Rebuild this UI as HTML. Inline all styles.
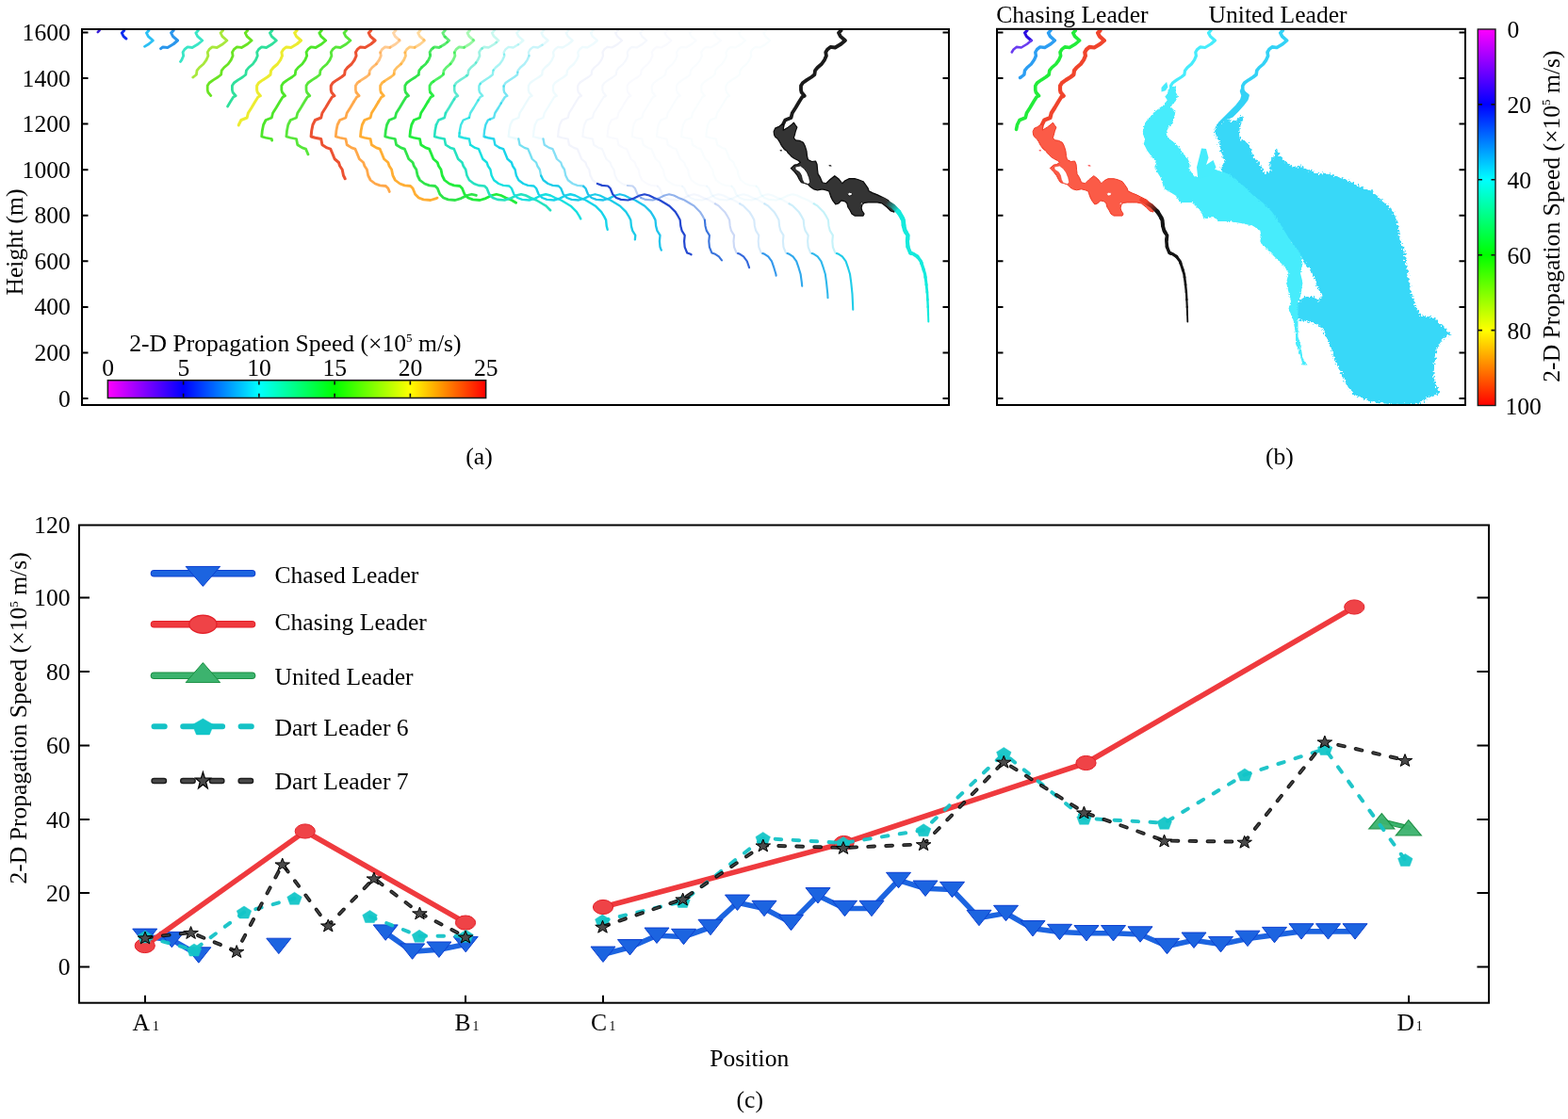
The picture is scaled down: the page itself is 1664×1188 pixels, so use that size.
<!DOCTYPE html>
<html><head><meta charset="utf-8"><title>Figure</title>
<style>html,body{margin:0;padding:0;background:#fff;} svg{display:block;}</style></head>
<body><svg width="1664" height="1188" viewBox="0 0 1664 1188" font-family="'Liberation Serif', 'Times New Roman', serif" fill="#000">
<rect width="1664" height="1188" fill="#fff"/>
<defs><linearGradient id="cbh" x1="0" y1="0" x2="1" y2="0"><stop offset="0.00" stop-color="#ff00ff"/><stop offset="0.20" stop-color="#0000ff"/><stop offset="0.40" stop-color="#00ffff"/><stop offset="0.60" stop-color="#00ff00"/><stop offset="0.80" stop-color="#ffff00"/><stop offset="1.00" stop-color="#ff0000"/></linearGradient><linearGradient id="cbv" x1="0" y1="0" x2="0" y2="1"><stop offset="0.00" stop-color="#ff00ff"/><stop offset="0.20" stop-color="#0000ff"/><stop offset="0.40" stop-color="#00ffff"/><stop offset="0.60" stop-color="#00ff00"/><stop offset="0.80" stop-color="#ffff00"/><stop offset="1.00" stop-color="#ff0000"/></linearGradient><filter id="rough" x="-5%" y="-5%" width="110%" height="110%"><feTurbulence type="fractalNoise" baseFrequency="0.45" numOctaves="2" seed="7" result="n"/><feDisplacementMap in="SourceGraphic" in2="n" scale="7" xChannelSelector="R" yChannelSelector="G"/></filter><filter id="rough2" x="-5%" y="-5%" width="110%" height="110%"><feTurbulence type="fractalNoise" baseFrequency="0.6" numOctaves="2" seed="3" result="n"/><feDisplacementMap in="SourceGraphic" in2="n" scale="3" xChannelSelector="R" yChannelSelector="G"/></filter><clipPath id="clipA"><rect x="88" y="32" width="918" height="397"/></clipPath><clipPath id="clipB"><rect x="1059" y="32" width="495" height="397"/></clipPath></defs>
<g clip-path="url(#clipA)">
<polyline points="105.5,32.4 103.8,34.1" fill="none" stroke="#3a20d8" stroke-width="2.6" stroke-linejoin="round" stroke-linecap="round" opacity="1.0"/>
<polyline points="131.7,32.4 129.2,34.9 131.1,38.6 133.99,41.14" fill="none" stroke="#0a2ef0" stroke-width="2.8" stroke-linejoin="round" stroke-linecap="round" opacity="1.0"/>
<polyline points="157.9,32.4 155.4,34.9 157.3,38.6 162.3,43 157.9,46.75 153.53,49.37" fill="none" stroke="#2cc0f4" stroke-width="2.8" stroke-linejoin="round" stroke-linecap="round" opacity="1.0"/>
<polyline points="184.1,32.4 181.6,34.9 183.5,38.6 188.5,43 184.1,46.75 177.85,50.5 172.85,49.9 170.62,51.67" fill="none" stroke="#2a96ec" stroke-width="3.0" stroke-linejoin="round" stroke-linecap="round" opacity="1.0"/>
<polyline points="210.3,32.4 207.8,34.9 209.7,38.6 214.7,43 210.3,46.75 204.05,50.5 199.05,49.9 195.9,52.4 194.05,55.5 194.7,59.25 192.8,63.6 191.48,65.47" fill="none" stroke="#3ae6c6" stroke-width="2.8" stroke-linejoin="round" stroke-linecap="round" opacity="1.0"/>
<polyline points="236.5,32.4 234,34.9 235.9,38.6 240.9,43 236.5,46.75 230.25,50.5 225.25,49.9 222.1,52.4 220.25,55.5 220.9,59.25 219,63.6 215.9,68 211.5,71.75 209,74.9 208.4,79.25 205.25,81.75 204.73,82.08" fill="none" stroke="#a8e83c" stroke-width="2.8" stroke-linejoin="round" stroke-linecap="round" opacity="1.0"/>
<polyline points="262.7,32.4 260.2,34.9 262.1,38.6 267.1,43 262.7,46.75 256.45,50.5 251.45,49.9 248.3,52.4 246.45,55.5 247.1,59.25 245.2,63.6 242.1,68 237.7,71.75 235.2,74.9 234.6,79.25 231.45,81.75 226.45,84.9 222.1,88 220.2,91.1 220.2,95.5 220.8,98 223.78,101.54" fill="none" stroke="#6ae424" stroke-width="2.8" stroke-linejoin="round" stroke-linecap="round" opacity="1.0"/>
<polyline points="288.9,32.4 286.4,34.9 288.3,38.6 293.3,43 288.9,46.75 282.65,50.5 277.65,49.9 274.5,52.4 272.65,55.5 273.3,59.25 271.4,63.6 268.3,68 263.9,71.75 261.4,74.9 260.8,79.25 257.65,81.75 252.65,84.9 248.3,88 246.4,91.1 246.4,95.5 247,98 250.15,101.75 247.65,103 244.5,108 241.55,112.99" fill="none" stroke="#30e09c" stroke-width="2.8" stroke-linejoin="round" stroke-linecap="round" opacity="1.0"/>
<polyline points="315.1,32.4 312.6,34.9 314.5,38.6 319.5,43 315.1,46.75 308.85,50.5 303.85,49.9 300.7,52.4 298.85,55.5 299.5,59.25 297.6,63.6 294.5,68 290.1,71.75 287.6,74.9 287,79.25 283.85,81.75 278.85,84.9 274.5,88 272.6,91.1 272.6,95.5 273.2,98 276.35,101.75 273.85,103 270.7,108 267,114.25 263.35,120 262.1,125 255.85,127.5 253.35,132.5 253.24,133.03" fill="none" stroke="#ecec30" stroke-width="3.0" stroke-linejoin="round" stroke-linecap="round" opacity="1.0"/>
<polyline points="341.3,32.4 338.8,34.9 340.7,38.6 345.7,43 341.3,46.75 335.05,50.5 330.05,49.9 326.9,52.4 325.05,55.5 325.7,59.25 323.8,63.6 320.7,68 316.3,71.75 313.8,74.9 313.2,79.25 310.05,81.75 305.05,84.9 300.7,88 298.8,91.1 298.8,95.5 299.4,98 302.55,101.75 300.05,103 296.9,108 293.2,114.25 289.55,120 288.3,125 282.05,127.5 279.55,132.5 278.3,138.75 277.7,145 282.05,146.25 288.3,147.5 288.64,149.18" fill="none" stroke="#4ee62a" stroke-width="2.8" stroke-linejoin="round" stroke-linecap="round" opacity="1.0"/>
<polyline points="367.5,32.4 365,34.9 366.9,38.6 371.9,43 367.5,46.75 361.25,50.5 356.25,49.9 353.1,52.4 351.25,55.5 351.9,59.25 350,63.6 346.9,68 342.5,71.75 340,74.9 339.4,79.25 336.25,81.75 331.25,84.9 326.9,88 325,91.1 325,95.5 325.6,98 328.75,101.75 326.25,103 323.1,108 319.4,114.25 315.75,120 314.5,125 308.25,127.5 305.75,132.5 304.5,138.75 303.9,145 308.25,146.25 314.5,147.5 315.75,153.75 320.75,156.9 324.5,158.1 326.4,162.5 326.95,163.87" fill="none" stroke="#58e63a" stroke-width="2.8" stroke-linejoin="round" stroke-linecap="round" opacity="1.0"/>
<polyline points="393.7,32.4 391.2,34.9 393.1,38.6 398.1,43 393.7,46.75 387.45,50.5 382.45,49.9 379.3,52.4 377.45,55.5 378.1,59.25 376.2,63.6 373.1,68 368.7,71.75 366.2,74.9 365.6,79.25 362.45,81.75 357.45,84.9 353.1,88 351.2,91.1 351.2,95.5 351.8,98 354.95,101.75 352.45,103 349.3,108 345.6,114.25 341.95,120 340.7,125 334.45,127.5 331.95,132.5 330.7,138.75 330.1,145 334.45,146.25 340.7,147.5 341.95,153.75 346.95,156.9 350.7,158.1 352.6,162.5 355.1,168.75 359.45,172.5 360.7,176.25 363.2,180 364.45,186.25 366.21,189.77" fill="none" stroke="#ec5232" stroke-width="3.0" stroke-linejoin="round" stroke-linecap="round" opacity="1.0"/>
<polyline points="419.9,32.4 417.4,34.9 419.3,38.6 423.63,42.41" fill="none" stroke="#ffa84a" stroke-width="2.8" stroke-linejoin="round" stroke-linecap="round" opacity="0.484375"/>
<polyline points="423.63,42.41 424.3,43 419.9,46.75 414.08,50.24" fill="none" stroke="#ffa84a" stroke-width="2.8" stroke-linejoin="round" stroke-linecap="round" opacity="0.553125"/>
<polyline points="414.08,50.24 413.65,50.5 408.65,49.9 405.5,52.4 403.65,55.5 403.7,55.79" fill="none" stroke="#ffa84a" stroke-width="2.8" stroke-linejoin="round" stroke-linecap="round" opacity="0.621875"/>
<polyline points="403.7,55.79 404.3,59.25 402.4,63.6 399.4,67.86" fill="none" stroke="#ffa84a" stroke-width="2.8" stroke-linejoin="round" stroke-linecap="round" opacity="0.690625"/>
<polyline points="399.4,67.86 399.3,68 394.9,71.75 392.4,74.9 391.92,78.35" fill="none" stroke="#ffa84a" stroke-width="2.8" stroke-linejoin="round" stroke-linecap="round" opacity="0.759375"/>
<polyline points="391.92,78.35 391.8,79.25 388.65,81.75 383.65,84.9 381.51,86.42" fill="none" stroke="#ffa84a" stroke-width="2.8" stroke-linejoin="round" stroke-linecap="round" opacity="0.828125"/>
<polyline points="381.51,86.42 379.3,88 377.4,91.1 377.4,95.5 378,98 378.09,98.11" fill="none" stroke="#ffa84a" stroke-width="2.8" stroke-linejoin="round" stroke-linecap="round" opacity="0.8968750000000001"/>
<polyline points="378.09,98.11 381.15,101.75 378.65,103 375.5,108" fill="none" stroke="#ffa84a" stroke-width="2.8" stroke-linejoin="round" stroke-linecap="round" opacity="0.965625"/>
<polyline points="375.5,108 371.8,114.25 368.15,120 366.9,125 360.65,127.5 358.15,132.5 356.9,138.75 356.3,145 360.65,146.25 366.9,147.5 368.15,153.75 373.15,156.9 376.9,158.1 378.8,162.5 381.3,168.75 385.65,172.5 386.9,176.25 389.4,180 390.65,186.25 393.15,191.25 398.15,195 403.15,196.9 409.4,197.5 411.9,200 413.31,203.53" fill="none" stroke="#ffa84a" stroke-width="2.8" stroke-linejoin="round" stroke-linecap="round" opacity="1.0"/>
<polyline points="446.1,32.4 443.6,34.9 445.5,38.6 449.83,42.41" fill="none" stroke="#ffae34" stroke-width="2.8" stroke-linejoin="round" stroke-linecap="round" opacity="0.484375"/>
<polyline points="449.83,42.41 450.5,43 446.1,46.75 440.28,50.24" fill="none" stroke="#ffae34" stroke-width="2.8" stroke-linejoin="round" stroke-linecap="round" opacity="0.553125"/>
<polyline points="440.28,50.24 439.85,50.5 434.85,49.9 431.7,52.4 429.85,55.5 429.9,55.79" fill="none" stroke="#ffae34" stroke-width="2.8" stroke-linejoin="round" stroke-linecap="round" opacity="0.621875"/>
<polyline points="429.9,55.79 430.5,59.25 428.6,63.6 425.6,67.86" fill="none" stroke="#ffae34" stroke-width="2.8" stroke-linejoin="round" stroke-linecap="round" opacity="0.690625"/>
<polyline points="425.6,67.86 425.5,68 421.1,71.75 418.6,74.9 418.12,78.35" fill="none" stroke="#ffae34" stroke-width="2.8" stroke-linejoin="round" stroke-linecap="round" opacity="0.759375"/>
<polyline points="418.12,78.35 418,79.25 414.85,81.75 409.85,84.9 407.71,86.42" fill="none" stroke="#ffae34" stroke-width="2.8" stroke-linejoin="round" stroke-linecap="round" opacity="0.828125"/>
<polyline points="407.71,86.42 405.5,88 403.6,91.1 403.6,95.5 404.2,98 404.29,98.11" fill="none" stroke="#ffae34" stroke-width="2.8" stroke-linejoin="round" stroke-linecap="round" opacity="0.8968750000000001"/>
<polyline points="404.29,98.11 407.35,101.75 404.85,103 401.7,108" fill="none" stroke="#ffae34" stroke-width="2.8" stroke-linejoin="round" stroke-linecap="round" opacity="0.965625"/>
<polyline points="401.7,108 398,114.25 394.35,120 393.1,125 386.85,127.5 384.35,132.5 383.1,138.75 382.5,145 386.85,146.25 393.1,147.5 394.35,153.75 399.35,156.9 403.1,158.1 405,162.5 407.5,168.75 411.85,172.5 413.1,176.25 415.6,180 416.85,186.25 419.35,191.25 424.35,195 429.35,196.9 435.6,197.5 438.1,200 440.6,206.25 444.35,210 449.35,211.9 456.85,212.5 463.1,210.6 464.09,210.11" fill="none" stroke="#ffae34" stroke-width="2.8" stroke-linejoin="round" stroke-linecap="round" opacity="1.0"/>
<polyline points="472.3,32.4 469.8,34.9 471.7,38.6 472.33,39.15" fill="none" stroke="#30e44a" stroke-width="2.8" stroke-linejoin="round" stroke-linecap="round" opacity="0.71875"/>
<polyline points="472.33,39.15 476.7,43 474.64,44.75" fill="none" stroke="#30e44a" stroke-width="2.8" stroke-linejoin="round" stroke-linecap="round" opacity="0.75625"/>
<polyline points="474.64,44.75 472.3,46.75 467.63,49.55" fill="none" stroke="#30e44a" stroke-width="2.8" stroke-linejoin="round" stroke-linecap="round" opacity="0.79375"/>
<polyline points="467.63,49.55 466.05,50.5 461.05,49.9 459.76,50.93" fill="none" stroke="#30e44a" stroke-width="2.8" stroke-linejoin="round" stroke-linecap="round" opacity="0.83125"/>
<polyline points="459.76,50.93 457.9,52.4 456.05,55.5 456.48,58.01" fill="none" stroke="#30e44a" stroke-width="2.8" stroke-linejoin="round" stroke-linecap="round" opacity="0.8687499999999999"/>
<polyline points="456.48,58.01 456.7,59.25 454.8,63.6 453.35,65.66" fill="none" stroke="#30e44a" stroke-width="2.8" stroke-linejoin="round" stroke-linecap="round" opacity="0.90625"/>
<polyline points="453.35,65.66 451.7,68 447.39,71.68" fill="none" stroke="#30e44a" stroke-width="2.8" stroke-linejoin="round" stroke-linecap="round" opacity="0.94375"/>
<polyline points="447.39,71.68 447.3,71.75 444.8,74.9 444.2,79.25" fill="none" stroke="#30e44a" stroke-width="2.8" stroke-linejoin="round" stroke-linecap="round" opacity="0.98125"/>
<polyline points="444.2,79.25 441.05,81.75 436.05,84.9 431.7,88 429.8,91.1 429.8,95.5 430.4,98 433.55,101.75 431.05,103 427.9,108 424.2,114.25 420.55,120 419.3,125 413.05,127.5 410.55,132.5 409.3,138.75 408.7,145 413.05,146.25 419.3,147.5 420.55,153.75 425.55,156.9 429.3,158.1 431.2,162.5 433.7,168.75 438.05,172.5 439.3,176.25 441.8,180 443.05,186.25 445.55,191.25 450.55,195 455.55,196.9 461.8,197.5 464.3,200 466.8,206.25 470.55,210 475.55,211.9 483.05,212.5 489.3,210.6 495.55,207.5 500.55,206.25 505.41,207.46" fill="none" stroke="#30e44a" stroke-width="2.8" stroke-linejoin="round" stroke-linecap="round" opacity="1.0"/>
<polyline points="498.5,32.4 496,34.9 497.9,38.6 502.23,42.41" fill="none" stroke="#22ec3c" stroke-width="2.8" stroke-linejoin="round" stroke-linecap="round" opacity="0.390625"/>
<polyline points="502.23,42.41 502.9,43 498.5,46.75 492.68,50.24" fill="none" stroke="#22ec3c" stroke-width="2.8" stroke-linejoin="round" stroke-linecap="round" opacity="0.471875"/>
<polyline points="492.68,50.24 492.25,50.5 487.25,49.9 484.1,52.4 482.25,55.5 482.3,55.79" fill="none" stroke="#22ec3c" stroke-width="2.8" stroke-linejoin="round" stroke-linecap="round" opacity="0.553125"/>
<polyline points="482.3,55.79 482.9,59.25 481,63.6 478,67.86" fill="none" stroke="#22ec3c" stroke-width="2.8" stroke-linejoin="round" stroke-linecap="round" opacity="0.6343749999999999"/>
<polyline points="478,67.86 477.9,68 473.5,71.75 471,74.9 470.52,78.35" fill="none" stroke="#22ec3c" stroke-width="2.8" stroke-linejoin="round" stroke-linecap="round" opacity="0.715625"/>
<polyline points="470.52,78.35 470.4,79.25 467.25,81.75 462.25,84.9 460.11,86.42" fill="none" stroke="#22ec3c" stroke-width="2.8" stroke-linejoin="round" stroke-linecap="round" opacity="0.796875"/>
<polyline points="460.11,86.42 457.9,88 456,91.1 456,95.5 456.6,98 456.69,98.11" fill="none" stroke="#22ec3c" stroke-width="2.8" stroke-linejoin="round" stroke-linecap="round" opacity="0.878125"/>
<polyline points="456.69,98.11 459.75,101.75 457.25,103 454.1,108" fill="none" stroke="#22ec3c" stroke-width="2.8" stroke-linejoin="round" stroke-linecap="round" opacity="0.959375"/>
<polyline points="454.1,108 450.4,114.25 446.75,120 445.5,125 439.25,127.5 436.75,132.5 435.5,138.75 434.9,145 439.25,146.25 445.5,147.5 446.75,153.75 451.75,156.9 455.5,158.1 457.4,162.5 459.9,168.75 464.25,172.5 465.5,176.25 468,180 469.25,186.25 471.75,191.25 476.75,195 481.75,196.9 488,197.5 490.5,200 493,206.25 496.75,210 501.75,211.9 509.25,212.5 515.5,210.6 521.75,207.5 526.75,206.25 531.75,207.5 536.75,210 543,212.5 547.6,215.26" fill="none" stroke="#22ec3c" stroke-width="2.8" stroke-linejoin="round" stroke-linecap="round" opacity="1.0"/>
<polyline points="524.7,32.4 522.2,34.9 524.1,38.6 529.1,43 526.78,44.98" fill="none" stroke="#26e2c0" stroke-width="2.6" stroke-linejoin="round" stroke-linecap="round" opacity="0.25"/>
<polyline points="526.78,44.98 524.7,46.75 518.45,50.5 513.45,49.9 511.61,51.36" fill="none" stroke="#26e2c0" stroke-width="2.6" stroke-linejoin="round" stroke-linecap="round" opacity="0.35000000000000003"/>
<polyline points="511.61,51.36 510.3,52.4 508.45,55.5 509.1,59.25 507.2,63.6 505.14,66.52" fill="none" stroke="#26e2c0" stroke-width="2.6" stroke-linejoin="round" stroke-linecap="round" opacity="0.45"/>
<polyline points="505.14,66.52 504.1,68 499.7,71.75 497.2,74.9 496.6,79.25 495.5,80.12" fill="none" stroke="#26e2c0" stroke-width="2.6" stroke-linejoin="round" stroke-linecap="round" opacity="0.55"/>
<polyline points="495.5,80.12 493.45,81.75 488.45,84.9 484.1,88 482.25,91.02" fill="none" stroke="#26e2c0" stroke-width="2.6" stroke-linejoin="round" stroke-linecap="round" opacity="0.65"/>
<polyline points="482.25,91.02 482.2,91.1 482.2,95.5 482.8,98 485.95,101.75 483.45,103 482.04,105.24" fill="none" stroke="#26e2c0" stroke-width="2.6" stroke-linejoin="round" stroke-linecap="round" opacity="0.75"/>
<polyline points="482.04,105.24 480.3,108 476.6,114.25 472.95,120 472.93,120.07" fill="none" stroke="#26e2c0" stroke-width="2.6" stroke-linejoin="round" stroke-linecap="round" opacity="0.8500000000000001"/>
<polyline points="472.93,120.07 471.7,125 465.45,127.5 462.95,132.5" fill="none" stroke="#26e2c0" stroke-width="2.6" stroke-linejoin="round" stroke-linecap="round" opacity="0.95"/>
<polyline points="462.95,132.5 461.7,138.75 461.1,145 465.45,146.25 471.7,147.5 472.95,153.75 477.95,156.9 481.7,158.1 483.6,162.5 486.1,168.75 490.45,172.5 491.7,176.25 494.2,180 495.45,186.25 497.95,191.25 502.95,195 507.95,196.9 514.2,197.5 516.7,200 519.2,206.25 522.95,210 527.95,211.9 535.45,212.5 541.7,210.6 547.95,207.5 552.95,206.25 557.95,207.5 562.95,210 569.2,212.5 575.45,216.25 579.5,218.7 584.05,223.25" fill="none" stroke="#26e2c0" stroke-width="2.6" stroke-linejoin="round" stroke-linecap="round" opacity="1.0"/>
<polyline points="550.9,32.4 548.4,34.9 550.3,38.6 555.3,43 550.9,46.75 550.03,47.27" fill="none" stroke="#18e0e0" stroke-width="2.4" stroke-linejoin="round" stroke-linecap="round" opacity="0.1375"/>
<polyline points="550.03,47.27 544.65,50.5 539.65,49.9 536.5,52.4 534.65,55.5 535.03,57.67" fill="none" stroke="#18e0e0" stroke-width="2.4" stroke-linejoin="round" stroke-linecap="round" opacity="0.2525"/>
<polyline points="535.03,57.67 535.3,59.25 533.4,63.6 530.3,68 525.9,71.75 523.64,74.6" fill="none" stroke="#18e0e0" stroke-width="2.4" stroke-linejoin="round" stroke-linecap="round" opacity="0.36750000000000005"/>
<polyline points="523.64,74.6 523.4,74.9 522.8,79.25 519.65,81.75 514.65,84.9 510.3,88 509.73,88.93" fill="none" stroke="#18e0e0" stroke-width="2.4" stroke-linejoin="round" stroke-linecap="round" opacity="0.48250000000000004"/>
<polyline points="509.73,88.93 508.4,91.1 508.4,95.5 509,98 512.15,101.75 509.65,103 507.55,106.34" fill="none" stroke="#18e0e0" stroke-width="2.4" stroke-linejoin="round" stroke-linecap="round" opacity="0.5975"/>
<polyline points="507.55,106.34 506.5,108 502.8,114.25 499.15,120 497.91,124.95" fill="none" stroke="#18e0e0" stroke-width="2.4" stroke-linejoin="round" stroke-linecap="round" opacity="0.7125"/>
<polyline points="497.91,124.95 497.9,125 491.65,127.5 489.15,132.5 487.9,138.75 487.67,141.14" fill="none" stroke="#18e0e0" stroke-width="2.4" stroke-linejoin="round" stroke-linecap="round" opacity="0.8275"/>
<polyline points="487.67,141.14 487.3,145 491.65,146.25 497.9,147.5 499.15,153.75" fill="none" stroke="#18e0e0" stroke-width="2.4" stroke-linejoin="round" stroke-linecap="round" opacity="0.9425"/>
<polyline points="499.15,153.75 504.15,156.9 507.9,158.1 509.8,162.5 512.3,168.75 516.65,172.5 517.9,176.25 520.4,180 521.65,186.25 524.15,191.25 529.15,195 534.15,196.9 540.4,197.5 542.9,200 545.4,206.25 549.15,210 554.15,211.9 561.65,212.5 567.9,210.6 574.15,207.5 579.15,206.25 584.15,207.5 589.15,210 595.4,212.5 601.65,216.25 605.7,218.7 611.9,224.9 615,229.9 616.26,232.35" fill="none" stroke="#18e0e0" stroke-width="2.4" stroke-linejoin="round" stroke-linecap="round" opacity="1.0"/>
<polyline points="577.1,32.4 574.6,34.9 576.5,38.6 581.5,43 577.1,46.75 575.6,47.65" fill="none" stroke="#18d4ea" stroke-width="2.4" stroke-linejoin="round" stroke-linecap="round" opacity="0.109375"/>
<polyline points="575.6,47.65 570.85,50.5 565.85,49.9 562.7,52.4 560.85,55.5 561.48,59.13" fill="none" stroke="#18d4ea" stroke-width="2.4" stroke-linejoin="round" stroke-linecap="round" opacity="0.22812499999999997"/>
<polyline points="561.48,59.13 561.5,59.25 559.6,63.6 556.5,68 552.1,71.75 549.6,74.9 549.35,76.71" fill="none" stroke="#18d4ea" stroke-width="2.4" stroke-linejoin="round" stroke-linecap="round" opacity="0.346875"/>
<polyline points="549.35,76.71 549,79.25 545.85,81.75 540.85,84.9 536.5,88 534.6,91.1 534.6,91.51" fill="none" stroke="#18d4ea" stroke-width="2.4" stroke-linejoin="round" stroke-linecap="round" opacity="0.46562499999999996"/>
<polyline points="534.6,91.51 534.6,95.5 535.2,98 538.35,101.75 535.85,103 532.7,108 531.82,109.49" fill="none" stroke="#18d4ea" stroke-width="2.4" stroke-linejoin="round" stroke-linecap="round" opacity="0.584375"/>
<polyline points="531.82,109.49 529,114.25 525.35,120 524.1,125 520.03,126.63" fill="none" stroke="#18d4ea" stroke-width="2.4" stroke-linejoin="round" stroke-linecap="round" opacity="0.703125"/>
<polyline points="520.03,126.63 517.85,127.5 515.35,132.5 514.1,138.75 513.5,145 514.75,145.36" fill="none" stroke="#18d4ea" stroke-width="2.4" stroke-linejoin="round" stroke-linecap="round" opacity="0.821875"/>
<polyline points="514.75,145.36 517.85,146.25 524.1,147.5 525.35,153.75 530.35,156.9" fill="none" stroke="#18d4ea" stroke-width="2.4" stroke-linejoin="round" stroke-linecap="round" opacity="0.940625"/>
<polyline points="530.35,156.9 534.1,158.1 536,162.5 538.5,168.75 542.85,172.5 544.1,176.25 546.6,180 547.85,186.25 550.35,191.25 555.35,195 560.35,196.9 566.6,197.5 569.1,200 571.6,206.25 575.35,210 580.35,211.9 587.85,212.5 594.1,210.6 600.35,207.5 605.35,206.25 610.35,207.5 615.35,210 621.6,212.5 627.85,216.25 631.9,218.7 638.1,224.9 641.2,229.9 643.1,233.6 643.7,239.9 644.72,243.82" fill="none" stroke="#18d4ea" stroke-width="2.4" stroke-linejoin="round" stroke-linecap="round" opacity="1.0"/>
<polyline points="603.3,32.4 600.8,34.9 602.7,38.6 607.7,43 603.3,46.75 597.05,50.5 592.05,49.9 588.9,52.4 587.05,55.5 587.7,59.25 585.8,63.6 582.7,68 578.3,71.75 575.8,74.9 575.2,79.25 572.05,81.75 567.05,84.9 562.7,88 560.8,91.1 560.8,95.5 561.4,98 564.55,101.75 562.05,103 558.9,108 555.2,114.25 551.55,120 550.3,125 544.05,127.5 541.55,132.5 540.3,138.75 539.7,145 544.05,146.25 550.28,147.5" fill="none" stroke="#1ccce8" stroke-width="2.3" stroke-linejoin="round" stroke-linecap="round" opacity="0.09"/>
<polyline points="550.28,147.5 550.3,147.5 551.55,153.75 556.55,156.9 560.3,158.1 562.2,162.5 564.7,168.75 569.05,172.5 570.3,176.25 572.8,180 574.05,186.25 574.16,186.47" fill="none" stroke="#1ccce8" stroke-width="2.3" stroke-linejoin="round" stroke-linecap="round" opacity="0.6"/>
<polyline points="574.16,186.47 576.55,191.25 581.55,195 586.55,196.9 592.8,197.5 595.3,200 597.8,206.25 601.55,210 606.55,211.9 614.05,212.5 620.3,210.6 626.55,207.5 631.55,206.25 636.55,207.5 641.55,210 647.8,212.5 654.05,216.25 658.1,218.7 664.3,224.9 667.4,229.9 669.3,233.6 669.9,239.9 671.2,244.9 674.3,249.9 673.86,254.46" fill="none" stroke="#1ccce8" stroke-width="2.3" stroke-linejoin="round" stroke-linecap="round" opacity="1.0"/>
<polyline points="629.5,32.4 627,34.9 628.9,38.6 633.9,43 629.5,46.75 623.25,50.5 618.25,49.9 615.1,52.4 613.25,55.5 613.9,59.25 612,63.6 608.9,68 604.5,71.75 602,74.9 601.4,79.25 598.25,81.75 593.25,84.9 588.9,88 587,91.1 587,95.5 587.6,98 590.75,101.75 588.25,103 585.1,108 581.4,114.25 577.75,120 576.5,125 570.25,127.5 567.75,132.5 566.5,138.75 565.9,145 570.25,146.25 576.48,147.5" fill="none" stroke="#20c4ec" stroke-width="2.3" stroke-linejoin="round" stroke-linecap="round" opacity="0.07"/>
<polyline points="576.48,147.5 576.5,147.5 577.75,153.75 582.75,156.9 586.5,158.1 588.4,162.5 590.9,168.75 595.25,172.5 596.5,176.25 599,180 600.25,186.25 602.75,191.25 607.75,195 612.75,196.9 619,197.5 619.2,197.7" fill="none" stroke="#20c4ec" stroke-width="2.3" stroke-linejoin="round" stroke-linecap="round" opacity="0.55"/>
<polyline points="619.2,197.7 621.5,200 624,206.25 627.75,210 632.75,211.9 640.25,212.5 646.5,210.6 652.75,207.5 657.75,206.25 662.75,207.5 667.75,210 674,212.5 680.25,216.25 684.3,218.7 690.5,224.9 693.6,229.9 695.5,233.6 696.1,239.9 697.4,244.9 700.5,249.9 699.9,256.1 700.5,262.3 701.82,265.57" fill="none" stroke="#20c4ec" stroke-width="2.3" stroke-linejoin="round" stroke-linecap="round" opacity="1.0"/>
<polyline points="655.7,32.4 653.2,34.9 655.1,38.6 660.1,43 655.7,46.75 649.45,50.5 644.45,49.9 641.3,52.4 639.45,55.5 640.1,59.25 638.2,63.6 635.1,68 630.7,71.75 628.2,74.9 627.6,79.25 624.45,81.75 619.45,84.9 615.1,88 613.2,91.1 613.2,95.5 613.8,98 616.95,101.75 614.45,103 611.3,108 607.6,114.25 603.95,120 602.7,125 596.45,127.5 593.95,132.5 592.7,138.75 592.1,145 596.45,146.25 602.7,147.5 603.95,153.75 608.95,156.9 612.7,158.1 614.6,162.5 617.1,168.75 621.45,172.5 622.7,176.25 625.2,180 626.45,186.25 628.95,191.25 633.95,195" fill="none" stroke="#2448d0" stroke-width="2.2" stroke-linejoin="round" stroke-linecap="round" opacity="0.06"/>
<polyline points="633.95,195 638.95,196.9 645.2,197.5 647.7,200 650.2,206.25 653.95,210 658.95,211.9 666.45,212.5 672.7,210.6 678.95,207.5 683.95,206.25 688.95,207.5 693.95,210 700.2,212.5 706.45,216.25 710.5,218.7 716.7,224.9 719.8,229.9 721.7,233.6 722.3,239.9 723.6,244.9 726.7,249.9 726.1,256.1 726.7,262.3 729.2,268.5 732.9,269.8 733.55,270.23" fill="none" stroke="#2448d0" stroke-width="2.2" stroke-linejoin="round" stroke-linecap="round" opacity="1.0"/>
<polyline points="681.9,32.4 679.4,34.9 681.3,38.6 686.3,43 681.9,46.75 675.65,50.5 670.65,49.9 667.5,52.4 665.65,55.5 666.3,59.25 664.4,63.6 661.3,68 656.9,71.75 654.4,74.9 653.8,79.25 650.65,81.75 645.65,84.9 641.3,88 639.4,91.1 639.4,95.5 640,98 643.15,101.75 640.65,103 637.5,108 633.8,114.25 630.15,120 628.9,125 622.65,127.5 620.15,132.5 618.9,138.75 618.3,145 622.65,146.25 628.9,147.5 630.15,153.75 635.15,156.9 638.9,158.1 640.8,162.5 643.3,168.75 647.65,172.5 648.9,176.25 651.4,180 652.65,186.25 655.15,191.25 660.15,195 665.15,196.9 665.89,196.97" fill="none" stroke="#3a74dc" stroke-width="2.1" stroke-linejoin="round" stroke-linecap="round" opacity="0.05"/>
<polyline points="665.89,196.97 671.4,197.5 673.9,200 676.4,206.25 680.15,210" fill="none" stroke="#3a74dc" stroke-width="2.1" stroke-linejoin="round" stroke-linecap="round" opacity="0.3"/>
<polyline points="680.15,210 685.15,211.9 692.65,212.5 698.9,210.6 705.15,207.5 710.15,206.25 715.15,207.5 720.15,210 726.4,212.5 732.65,216.25 736.7,218.7 742.9,224.9 746,229.9 747.9,233.6" fill="none" stroke="#3a74dc" stroke-width="2.1" stroke-linejoin="round" stroke-linecap="round" opacity="0.55"/>
<polyline points="747.9,233.6 748.5,239.9 749.8,244.9 752.9,249.9 752.3,256.1 752.9,262.3 755.4,268.5 759.1,269.8 762.9,272.3 765.97,276.45" fill="none" stroke="#3a74dc" stroke-width="2.1" stroke-linejoin="round" stroke-linecap="round" opacity="1.0"/>
<polyline points="708.1,32.4 705.6,34.9 707.5,38.6 712.5,43 708.1,46.75 701.85,50.5 696.85,49.9 693.7,52.4 691.85,55.5 692.5,59.25 690.6,63.6 687.5,68 683.1,71.75 680.6,74.9 680,79.25 676.85,81.75 671.85,84.9 667.5,88 665.6,91.1 665.6,95.5 666.2,98 669.35,101.75 666.85,103 663.7,108 660,114.25 656.35,120 655.1,125 648.85,127.5 646.35,132.5 645.1,138.75 644.5,145 648.85,146.25 655.1,147.5 656.35,153.75 661.35,156.9 665.1,158.1 667,162.5 669.5,168.75 673.85,172.5 675.1,176.25 677.6,180 678.85,186.25 681.35,191.25 686.35,195 691.35,196.9 697.6,197.5 697.8,197.7" fill="none" stroke="#3468dc" stroke-width="2.1" stroke-linejoin="round" stroke-linecap="round" opacity="0.03"/>
<polyline points="697.8,197.7 700.1,200 702.6,206.25 706.35,210 711.35,211.9 718.85,212.5 725.1,210.6 731.35,207.5 736.35,206.25 741.35,207.5 746.35,210 752.6,212.5 758.85,216.25" fill="none" stroke="#3468dc" stroke-width="2.1" stroke-linejoin="round" stroke-linecap="round" opacity="0.06"/>
<polyline points="758.85,216.25 762.9,218.7 769.1,224.9 772.2,229.9 774.1,233.6 774.7,239.9 776,244.9 779.1,249.9 778.5,256.1 779.1,262.3 781.6,268.5 783.05,269.01" fill="none" stroke="#3468dc" stroke-width="2.1" stroke-linejoin="round" stroke-linecap="round" opacity="0.25"/>
<polyline points="783.05,269.01 785.3,269.8 789.1,272.3 792.8,277.3 795.11,284.14" fill="none" stroke="#3468dc" stroke-width="2.1" stroke-linejoin="round" stroke-linecap="round" opacity="1.0"/>
<polyline points="734.3,32.4 731.8,34.9 733.7,38.6 738.7,43 734.3,46.75 728.05,50.5 723.05,49.9 719.9,52.4 718.05,55.5 718.7,59.25 716.8,63.6 713.7,68 709.3,71.75 706.8,74.9 706.2,79.25 703.05,81.75 698.05,84.9 693.7,88 691.8,91.1 691.8,95.5 692.4,98 695.55,101.75 693.05,103 689.9,108 686.2,114.25 682.55,120 681.3,125 675.05,127.5 672.55,132.5 671.3,138.75 670.7,145 675.05,146.25 681.3,147.5 682.55,153.75 687.55,156.9 691.3,158.1 693.2,162.5 695.7,168.75 700.05,172.5 701.3,176.25 703.8,180 705.05,186.25 707.55,191.25 712.55,195 717.55,196.9 723.8,197.5 724,197.7" fill="none" stroke="#3498ec" stroke-width="2.1" stroke-linejoin="round" stroke-linecap="round" opacity="0.03"/>
<polyline points="724,197.7 726.3,200 728.8,206.25 732.55,210 737.55,211.9 745.05,212.5 751.3,210.6 757.55,207.5 762.55,206.25 767.55,207.5 772.55,210 778.8,212.5 785.05,216.25" fill="none" stroke="#3498ec" stroke-width="2.1" stroke-linejoin="round" stroke-linecap="round" opacity="0.06"/>
<polyline points="785.05,216.25 789.1,218.7 795.3,224.9 798.4,229.9 800.3,233.6 800.9,239.9 802.2,244.9 805.3,249.9 804.7,256.1 805.3,262.3 807.8,268.5 809.25,269.01" fill="none" stroke="#3498ec" stroke-width="2.1" stroke-linejoin="round" stroke-linecap="round" opacity="0.2"/>
<polyline points="809.25,269.01 811.5,269.8 815.3,272.3 819,277.3 821.5,284.7 823.4,291 823.62,292.59" fill="none" stroke="#3498ec" stroke-width="2.1" stroke-linejoin="round" stroke-linecap="round" opacity="1.0"/>
<polyline points="760.5,32.4 758,34.9 759.9,38.6 764.9,43 760.5,46.75 754.25,50.5 749.25,49.9 746.1,52.4 744.25,55.5 744.9,59.25 743,63.6 739.9,68 735.5,71.75 733,74.9 732.4,79.25 729.25,81.75 724.25,84.9 719.9,88 718,91.1 718,95.5 718.6,98 721.75,101.75 719.25,103 716.1,108 712.4,114.25 708.75,120 707.5,125 701.25,127.5 698.75,132.5 697.5,138.75 696.9,145 701.25,146.25 707.5,147.5 708.75,153.75 713.75,156.9 717.5,158.1 719.4,162.5 721.9,168.75 726.25,172.5 727.5,176.25 730,180 731.25,186.25 733.75,191.25 738.75,195 743.75,196.9 750,197.5 750.2,197.7" fill="none" stroke="#30a8ec" stroke-width="2.1" stroke-linejoin="round" stroke-linecap="round" opacity="0.03"/>
<polyline points="750.2,197.7 752.5,200 755,206.25 758.75,210 763.75,211.9 771.25,212.5 777.5,210.6 783.75,207.5 788.75,206.25 793.75,207.5 798.75,210 805,212.5 811.25,216.25" fill="none" stroke="#30a8ec" stroke-width="2.1" stroke-linejoin="round" stroke-linecap="round" opacity="0.06"/>
<polyline points="811.25,216.25 815.3,218.7 821.5,224.9 824.6,229.9 826.5,233.6 827.1,239.9 828.4,244.9 831.5,249.9 830.9,256.1 831.5,262.3 834,268.5 835.45,269.01" fill="none" stroke="#30a8ec" stroke-width="2.1" stroke-linejoin="round" stroke-linecap="round" opacity="0.22"/>
<polyline points="835.45,269.01 837.7,269.8 841.5,272.3 845.2,277.3 847.7,284.7 849.6,291 850.8,299.7 851.22,303.75" fill="none" stroke="#30a8ec" stroke-width="2.1" stroke-linejoin="round" stroke-linecap="round" opacity="1.0"/>
<polyline points="786.7,32.4 784.2,34.9 786.1,38.6 791.1,43 786.7,46.75 780.45,50.5 775.45,49.9 772.3,52.4 770.45,55.5 771.1,59.25 769.2,63.6 766.1,68 761.7,71.75 759.2,74.9 758.6,79.25 755.45,81.75 750.45,84.9 746.1,88 744.2,91.1 744.2,95.5 744.8,98 747.95,101.75 745.45,103 742.3,108 738.6,114.25 734.95,120 733.7,125 727.45,127.5 724.95,132.5 723.7,138.75 723.1,145 727.45,146.25 733.7,147.5 734.95,153.75 739.95,156.9 743.7,158.1 745.6,162.5 748.1,168.75 752.45,172.5 753.7,176.25 756.2,180 757.45,186.25 759.95,191.25 764.95,195 769.95,196.9 776.2,197.5 776.4,197.7" fill="none" stroke="#30b8ec" stroke-width="2.1" stroke-linejoin="round" stroke-linecap="round" opacity="0.03"/>
<polyline points="776.4,197.7 778.7,200 781.2,206.25 784.95,210 789.95,211.9 797.45,212.5 803.7,210.6 809.95,207.5 814.95,206.25 819.95,207.5 824.95,210 831.2,212.5 837.45,216.25" fill="none" stroke="#30b8ec" stroke-width="2.1" stroke-linejoin="round" stroke-linecap="round" opacity="0.06"/>
<polyline points="837.45,216.25 841.5,218.7 847.7,224.9 850.8,229.9 852.7,233.6 853.3,239.9 854.6,244.9 857.7,249.9 857.1,256.1 857.7,262.3 860.2,268.5 861.65,269.01" fill="none" stroke="#30b8ec" stroke-width="2.1" stroke-linejoin="round" stroke-linecap="round" opacity="0.24"/>
<polyline points="861.65,269.01 863.9,269.8 867.7,272.3 871.4,277.3 873.9,284.7 875.8,291 877,299.7 878.3,312.2 878.5,316.26" fill="none" stroke="#30b8ec" stroke-width="2.1" stroke-linejoin="round" stroke-linecap="round" opacity="1.0"/>
<polyline points="812.9,32.4 810.4,34.9 812.3,38.6 817.3,43 812.9,46.75 806.65,50.5 801.65,49.9 798.5,52.4 796.65,55.5 797.3,59.25 795.4,63.6 792.3,68 787.9,71.75 785.4,74.9 784.8,79.25 781.65,81.75 776.65,84.9 772.3,88 770.4,91.1 770.4,95.5 771,98 774.15,101.75 771.65,103 768.5,108 764.8,114.25 761.15,120 759.9,125 753.65,127.5 751.15,132.5 749.9,138.75 749.3,145 753.65,146.25 759.9,147.5 761.15,153.75 766.15,156.9 769.9,158.1 771.8,162.5 774.3,168.75 778.65,172.5 779.9,176.25 782.4,180 783.65,186.25 786.15,191.25 791.15,195 796.15,196.9 802.4,197.5 802.6,197.7" fill="none" stroke="#20cce8" stroke-width="2.1" stroke-linejoin="round" stroke-linecap="round" opacity="0.03"/>
<polyline points="802.6,197.7 804.9,200 807.4,206.25 811.15,210 816.15,211.9 823.65,212.5 829.9,210.6 836.15,207.5 841.15,206.25 846.15,207.5 851.15,210 857.4,212.5 863.65,216.25" fill="none" stroke="#20cce8" stroke-width="2.1" stroke-linejoin="round" stroke-linecap="round" opacity="0.06"/>
<polyline points="863.65,216.25 867.7,218.7 873.9,224.9 877,229.9 878.9,233.6 879.5,239.9 880.8,244.9 883.9,249.9 883.3,256.1 883.9,262.3 886.4,268.5 887.85,269.01" fill="none" stroke="#20cce8" stroke-width="2.1" stroke-linejoin="round" stroke-linecap="round" opacity="0.26"/>
<polyline points="887.85,269.01 890.1,269.8 893.9,272.3 897.6,277.3 900.1,284.7 902,291 903.2,299.7 904.5,312.2 905.1,324.6 905.25,328.76" fill="none" stroke="#20cce8" stroke-width="2.1" stroke-linejoin="round" stroke-linecap="round" opacity="1.0"/>
<polyline points="892.5,32.4 890,34.9 891.9,38.6 896.9,43 892.5,46.75 886.25,50.5 881.25,49.9 878.1,52.4 876.25,55.5 876.9,59.25 875,63.6 871.9,68 867.5,71.75 865,74.9 864.4,79.25 861.25,81.75 856.25,84.9 851.9,88 850,91.1 850,95.5 850.6,98 853.75,101.75 851.25,103 848.1,108 844.4,114.25 840.75,120 839.5,125 833.25,127.5 830.75,132.5 829.52,138.64" fill="none" stroke="#1a1a1a" stroke-width="3.8" stroke-linejoin="round" stroke-linecap="round"/>
<polygon points="821.62,143.23 821.11,139.7 822.63,136.16 826.16,134.65 828.18,133.13 830.2,132.12 831.72,132.63 831.21,138.18 836.26,135.15 840.3,132.12 842.32,130.1 844.34,133.13 845.86,135.15 844.34,139.19 843.33,143.23 842.32,146.26 844.34,148.79 848.38,149.29 852.42,151.31 854.44,155.35 855.96,160.4 856.46,165.45 857.47,169.49 861.52,171.52 865.56,171.01 867.07,174.55 867.58,180.61 868.08,184.65 870.61,188.69 872.63,193.74 876.67,194.75 880.71,190.71 885.76,186.67 889.8,189.7 893.84,194.75 896.87,191.72 900.91,189.7 906.97,189.7 911.01,190.71 916.06,192.73 919.09,196.77 921.11,199.8 922.12,202.83 926.16,204.85 931.21,206.87 935.25,208.89 939.29,210.91 942.32,212.42 944.34,214.95 947.37,216.97 949.39,219.49 948.89,225.05 945.35,224.04 941.31,220 936.26,215.96 931.21,214.95 926.16,214.95 921.11,214.95 917.07,215.45 915.05,216.97 914.04,221.01 915.05,224.04 917.07,227.07 916.06,229.09 911.01,229.09 906.97,229.09 903.94,227.07 901.92,223.03 899.9,220 898.89,215.96 896.87,213.94 892.83,212.93 889.8,215.96 886.77,216.97 883.74,212.93 881.72,208.89 880.71,205.86 879.7,202.83 876.67,201.82 872.63,200.81 867.58,201.82 863.54,200.81 860.51,198.79 857.47,195.76 854.44,194.75 850.4,193.74 848.38,190.71 846.36,186.67 843.33,182.63 840.3,179.6 839.29,178.59 843.33,175.05 846.36,174.55 849.39,172.53 847.37,170.51 843.33,168.48 840.3,166.46 838.28,164.44 836.26,162.42 835.25,160.4 832.22,158.38 829.19,154.34 827.17,150.3 825.15,147.27 822.63,145.25" fill="#343434" stroke="#0a0a0a" stroke-width="1.2" stroke-linejoin="round"/>
<polygon points="843.84,177.07 849.39,176.06 853.43,179.09 856.46,183.13 858.69,188.69 859.7,193.74 857.68,195.56 853.23,194.24 851.41,190.71 850.4,186.16 848.38,182.63 845.56,181.11 844.14,179.6" fill="#fff" stroke="#0a0a0a" stroke-width="0.8"/>
<polygon points="899.39,205.86 901.41,204.34 904.44,204.85 903.94,207.37 900.91,208.08" fill="#fff" stroke="#0a0a0a" stroke-width="0.8"/>
<polygon points="912.53,215.96 914.55,214.95 916.06,215.96 914.04,217.17" fill="#fff" stroke="#0a0a0a" stroke-width="0.8"/>
<polygon points="879.19,175.35 881.21,174.95 882.93,176.16 880.71,176.77" fill="#222"/>
<polygon points="827.37,159.6 829.19,158.79 830.2,160.2 828.18,160.61" fill="#222"/>
<defs><linearGradient id="tga" gradientUnits="userSpaceOnUse" x1="940.68" y1="214.71" x2="953.15" y2="224.55"><stop offset="0" stop-color="#333333"/><stop offset="1" stop-color="#14eadc"/></linearGradient></defs>
<polyline points="936.34,212.24 937,212.5 943.25,216.25 947.3,218.7 953.5,224.9 953.76,225.32" fill="none" stroke="url(#tga)" stroke-width="5.2" stroke-linejoin="round" stroke-linecap="round"/>
<polyline points="953.15,224.55 953.5,224.9 956.6,229.9 957.58,231.81" fill="none" stroke="#14eadc" stroke-width="5" stroke-linejoin="round" stroke-linecap="round"/>
<polyline points="957.3,231.27 958.5,233.6 959.06,239.48" fill="none" stroke="#14eadc" stroke-width="4.8" stroke-linejoin="round" stroke-linecap="round"/>
<polyline points="959,238.88 959.1,239.9 960.4,244.9 961.63,246.89" fill="none" stroke="#14eadc" stroke-width="4.6" stroke-linejoin="round" stroke-linecap="round"/>
<polyline points="961.32,246.38 963.5,249.9 963.08,254.26" fill="none" stroke="#14eadc" stroke-width="4.4" stroke-linejoin="round" stroke-linecap="round"/>
<polyline points="963.14,253.67 962.9,256.1 963.49,262.15" fill="none" stroke="#14eadc" stroke-width="4.2" stroke-linejoin="round" stroke-linecap="round"/>
<polyline points="963.43,261.56 963.5,262.3 966,268.5 967.03,268.86" fill="none" stroke="#14eadc" stroke-width="4" stroke-linejoin="round" stroke-linecap="round"/>
<polyline points="966.47,268.66 969.7,269.8 973.5,272.3 973.83,272.74" fill="none" stroke="#14eadc" stroke-width="3.8" stroke-linejoin="round" stroke-linecap="round"/>
<polyline points="973.46,272.27 973.5,272.3 977.2,277.3 977.92,279.44" fill="none" stroke="#14eadc" stroke-width="3.6" stroke-linejoin="round" stroke-linecap="round"/>
<polyline points="977.73,278.87 979.7,284.7 980.38,286.97" fill="none" stroke="#14eadc" stroke-width="3.4" stroke-linejoin="round" stroke-linecap="round"/>
<polyline points="980.21,286.4 981.6,291 982.11,294.68" fill="none" stroke="#14eadc" stroke-width="3.2" stroke-linejoin="round" stroke-linecap="round"/>
<polyline points="982.03,294.09 982.8,299.7 983.1,302.55" fill="none" stroke="#14eadc" stroke-width="3" stroke-linejoin="round" stroke-linecap="round"/>
<polyline points="983.03,301.95 983.92,310.43" fill="none" stroke="#14eadc" stroke-width="2.8" stroke-linejoin="round" stroke-linecap="round"/>
<polyline points="983.85,309.83 984.1,312.2 984.4,318.34" fill="none" stroke="#14eadc" stroke-width="2.6" stroke-linejoin="round" stroke-linecap="round"/>
<polyline points="984.37,317.74 984.7,324.6 984.76,326.26" fill="none" stroke="#14eadc" stroke-width="2.4" stroke-linejoin="round" stroke-linecap="round"/>
<polyline points="984.74,325.66 985.04,334.18" fill="none" stroke="#14eadc" stroke-width="2.2" stroke-linejoin="round" stroke-linecap="round"/>
<polyline points="985.02,333.58 985.3,341.5" fill="none" stroke="#14eadc" stroke-width="2" stroke-linejoin="round" stroke-linecap="round"/>
</g>
<path d="M88,423h5.5M1006,423h-5.5M88,374.44h5.5M1006,374.44h-5.5M88,325.88h5.5M1006,325.88h-5.5M88,277.31h5.5M1006,277.31h-5.5M88,228.75h5.5M1006,228.75h-5.5M88,180.19h5.5M1006,180.19h-5.5M88,131.62h5.5M1006,131.62h-5.5M88,83.06h5.5M1006,83.06h-5.5M88,34.5h5.5M1006,34.5h-5.5" stroke="#000" stroke-width="2" fill="none"/>
<rect x="87" y="31" width="920" height="399" fill="none" stroke="#000" stroke-width="2"/>
<text x="74.8" y="431.5" text-anchor="end" font-size="25.6" >0</text>
<text x="74.8" y="382.94" text-anchor="end" font-size="25.6" >200</text>
<text x="74.8" y="334.38" text-anchor="end" font-size="25.6" >400</text>
<text x="74.8" y="285.81" text-anchor="end" font-size="25.6" >600</text>
<text x="74.8" y="237.25" text-anchor="end" font-size="25.6" >800</text>
<text x="74.8" y="188.69" text-anchor="end" font-size="25.6" >1000</text>
<text x="74.8" y="140.12" text-anchor="end" font-size="25.6" >1200</text>
<text x="74.8" y="91.56" text-anchor="end" font-size="25.6" >1400</text>
<text x="74.8" y="43" text-anchor="end" font-size="25.6" >1600</text>
<text transform="translate(24.2,257) rotate(-90)" text-anchor="middle" font-size="25.6">Height (m)</text>
<rect x="114.4" y="403.75" width="401.2" height="18.75" fill="url(#cbh)" stroke="#1a1a1a" stroke-width="1.6"/>
<path d="M194.64,404.5v4M194.64,421.8v-4M274.88,404.5v4M274.88,421.8v-4M355.12,404.5v4M355.12,421.8v-4M435.36,404.5v4M435.36,421.8v-4" stroke="#111" stroke-width="1.6"/>
<text x="114.6" y="399.3" text-anchor="middle" font-size="25.6" >0</text>
<text x="194.84" y="399.3" text-anchor="middle" font-size="25.6" >5</text>
<text x="275.08" y="399.3" text-anchor="middle" font-size="25.6" >10</text>
<text x="355.32" y="399.3" text-anchor="middle" font-size="25.6" >15</text>
<text x="435.56" y="399.3" text-anchor="middle" font-size="25.6" >20</text>
<text x="515.8" y="399.3" text-anchor="middle" font-size="25.6" >25</text>
<text x="137.3" y="372.6" font-size="25.6">2-D Propagation Speed (×10<tspan font-size="13" dy="-9.5">5</tspan><tspan dy="9.5"> m/s)</tspan></text>
<text x="508.5" y="492.6" text-anchor="middle" font-size="25.6" >(a)</text>
<g clip-path="url(#clipB)">
<polyline points="1285,32.4 1282.5,34.9 1284.4,38.6 1289.4,43 1285,46.75 1278.75,50.5 1273.75,49.9 1270.6,52.4 1268.75,55.5 1269.4,59.25 1267.5,63.6 1264.4,68 1260,71.75 1257.5,74.9 1256.9,79.25 1253.75,81.75 1248.75,84.9 1244.4,88 1242.5,91.1 1242.5,92.4" fill="none" stroke="#46ecfc" stroke-width="3.2" stroke-linejoin="round" stroke-linecap="round"/>
<polyline points="1361.25,32.4 1358.75,34.9 1360.65,38.6 1365.65,43 1361.25,46.75 1355,50.5 1350,49.9 1346.85,52.4 1345,55.5 1345.65,59.25 1343.75,63.6 1340.65,68 1336.25,71.75 1333.75,74.9 1333.15,79.25 1330,81.75 1325,84.9 1320.65,88 1318.75,91.1 1318.75,95.5 1319.35,98 1322.5,101.75 1320,103 1316.85,108 1313.15,114.25 1310.44,118.52" fill="none" stroke="#33d2f6" stroke-width="3.6" stroke-linejoin="round" stroke-linecap="round"/>
<polygon points="1300,125 1305,128.75 1311.25,127.5 1316.25,123.75 1320,125 1316.25,133.75 1315,142.5 1317.5,148.75 1325,152.5 1328.75,160 1330,167.5 1336.25,173 1342.5,185 1347.5,182.5 1347.5,172.5 1352.5,165 1355,157.5 1357.5,165 1365,172.5 1372.5,177.5 1380,176.25 1387.5,180 1397.5,183.75 1410,185 1420,187.5 1430,191.25 1442.5,197.5 1455,202.5 1462.5,208.75 1472.5,217.5 1480,227.5 1483.75,240 1485,252.5 1490,265 1492.5,280 1495,295 1497.5,310 1502.5,325 1507.5,335 1522.5,337.5 1532.5,347.5 1540,355 1530,360 1525,370 1522.5,385 1521.25,400 1523.75,410 1527.5,417.5 1515,422.5 1505,428.75 1480,430 1455,426.25 1437.5,420 1430,410 1425,400 1417.5,385 1412.5,370 1407.5,357.5 1402.5,347.5 1392.5,342.5 1380,340 1372.5,337.5 1371.25,330 1377.5,320 1385,315 1395,315 1400,320 1402.5,315 1397.5,302.5 1392.5,290 1385,280 1378.75,271.25 1373.75,262.5 1367.5,255 1360,250 1352.5,242.5 1346.25,235 1340,227.5 1330,220 1320,211.25 1310,202.5 1302.5,193.75 1297.5,185 1296.25,175 1300,173 1296.25,162.5 1295,155 1292.5,147.5 1288.75,141.25 1290,135 1292.5,131.25 1296.25,130 1300,125" fill="#37d8f8" filter="url(#rough)"/>
<polygon points="1318.12,95 1321.25,98.75 1324.38,101.25 1323.12,105.62 1318.75,111.25 1312.5,118.12 1307.5,123.12 1303.75,125 1300,125 1296.25,128.75 1293.12,132.5 1300,125 1305,120 1312.5,112.5 1317.5,106.25 1318.75,101.25 1317.25,96.88" fill="#33d2f6" stroke="#33d2f6" stroke-width="3" stroke-linejoin="round"/>
<polygon points="1242.5,92.5 1248.12,91.25 1247.5,96.88 1250,102.5 1247.5,107.5 1243.75,111.25 1242.5,115 1247.5,117.5 1246.25,125 1243.75,131.25 1238.75,137.5 1237.5,142.5 1241.25,147.5 1247.5,152.5 1252.5,157.5 1255,162.5 1260,167.5 1262.5,173 1262.5,180 1267.5,187.5 1275,186.25 1280,180 1285,177.5 1290,180 1297.5,182.5 1305,185 1310,190 1320,197.5 1330,207.5 1340,215 1350,225 1355,232.5 1360,240 1367.5,252.5 1375,262.5 1380,270 1382.5,280 1380,290 1382.5,300 1380,315 1377.5,320 1377.5,340 1377.5,357.5 1380,365 1382.5,380 1387.5,387.5 1382.5,387.5 1380,377.5 1375,365 1375,355 1372.5,340 1367.5,327.5 1370,320 1367.5,310 1365,300 1367.5,290 1362.5,282.5 1355,275 1345,265 1337.5,257.5 1337.5,245 1330,240 1320,237.5 1305,235 1292.5,235 1287.5,230 1277.5,232.5 1275,225 1265,215 1252.5,215 1247.5,207.5 1235,200 1232.5,190 1225,177.5 1227.5,172.5 1227.5,173 1221.25,165 1217.5,160 1213.75,152.5 1215,147.5 1212.5,141.25 1213.75,135 1216.25,128.75 1220,125 1223.75,120 1230,115 1235,111.25 1238.75,106.25 1236.25,102.5 1238.75,100 1240,95" fill="#46ecfc" filter="url(#rough2)"/>
<polygon points="1271.25,190 1270,177.5 1272.5,167.5 1275,157.5 1280,158 1282.5,167.5 1280,175 1287.5,170 1290.5,177.5 1285,186.25" fill="#46ecfc"/>
<polygon points="1232.5,93.12 1235,90 1238.12,86.88 1239.38,92.5 1236.88,96.25 1232.5,97.5" fill="#46ecfc"/>
<polyline points="1090,32.4 1087.5,34.9 1089.4,38.6 1094.4,43" fill="none" stroke="#2a0ce0" stroke-width="3" stroke-linejoin="round" stroke-linecap="round"/>
<polyline points="1094.4,43 1090,46.75 1083.75,50.5 1078.75,49.9 1075.6,52.4 1073.75,55.5" fill="none" stroke="#6a3cf0" stroke-width="2.6" stroke-linejoin="round" stroke-linecap="round"/>
<polyline points="1115,32.4 1112.5,34.9 1114.4,38.6 1119.4,43 1115,46.75 1108.75,50.5 1103.75,49.9 1100.6,52.4 1098.75,55.5 1099.4,59.25 1097.5,63.6 1094.4,68 1090,71.75 1087.5,74.9 1086.9,79.25 1083.75,81.75 1082.54,82.51" fill="none" stroke="#2c9ef2" stroke-width="3.4" stroke-linejoin="round" stroke-linecap="round"/>
<polyline points="1141.25,32.4 1138.75,34.9 1140.65,38.6 1145.65,43 1141.25,46.75 1135,50.5 1130,49.9 1126.85,52.4 1125,55.5 1125.65,59.25 1123.75,63.6 1120.65,68 1116.25,71.75 1113.75,74.9 1113.15,79.25 1110,81.75 1105,84.9 1100.65,88 1098.75,91.1 1098.75,95.5 1099.35,98 1102.5,101.75 1100,103 1096.85,108 1093.15,114.25 1089.5,120 1088.25,125 1082,127.5 1079.5,132.5 1078.53,137.36" fill="none" stroke="#22ec3a" stroke-width="3.6" stroke-linejoin="round" stroke-linecap="round"/>
<polyline points="1167.5,32.4 1165,34.9 1166.9,38.6 1171.9,43 1167.5,46.75 1161.25,50.5 1156.25,49.9 1153.1,52.4 1151.25,55.5 1151.9,59.25 1150,63.6 1146.9,68 1142.5,71.75 1140,74.9 1139.4,79.25 1136.25,81.75 1131.25,84.9 1126.9,88 1125,91.1 1125,95.5 1125.6,98 1128.75,101.75 1126.25,103 1123.1,108 1119.4,114.25 1115.75,120 1114.5,125 1108.25,127.5 1105.75,132.5 1104.52,138.64" fill="none" stroke="#f0442c" stroke-width="4.2" stroke-linejoin="round" stroke-linecap="round"/>
<polygon points="1096.62,143.23 1096.11,139.7 1097.63,136.16 1101.16,134.65 1103.18,133.13 1105.2,132.12 1106.72,132.63 1106.21,138.18 1111.26,135.15 1115.3,132.12 1117.32,130.1 1119.34,133.13 1120.86,135.15 1119.34,139.19 1118.33,143.23 1117.32,146.26 1119.34,148.79 1123.38,149.29 1127.42,151.31 1129.44,155.35 1130.96,160.4 1131.46,165.45 1132.47,169.49 1136.52,171.52 1140.56,171.01 1142.07,174.55 1142.58,180.61 1143.08,184.65 1145.61,188.69 1147.63,193.74 1151.67,194.75 1155.71,190.71 1160.76,186.67 1164.8,189.7 1168.84,194.75 1171.87,191.72 1175.91,189.7 1181.97,189.7 1186.01,190.71 1191.06,192.73 1194.09,196.77 1196.11,199.8 1197.12,202.83 1201.16,204.85 1206.21,206.87 1210.25,208.89 1214.29,210.91 1217.32,212.42 1219.34,214.95 1222.37,216.97 1224.39,219.49 1223.89,225.05 1220.35,224.04 1216.31,220 1211.26,215.96 1206.21,214.95 1201.16,214.95 1196.11,214.95 1192.07,215.45 1190.05,216.97 1189.04,221.01 1190.05,224.04 1192.07,227.07 1191.06,229.09 1186.01,229.09 1181.97,229.09 1178.94,227.07 1176.92,223.03 1174.9,220 1173.89,215.96 1171.87,213.94 1167.83,212.93 1164.8,215.96 1161.77,216.97 1158.74,212.93 1156.72,208.89 1155.71,205.86 1154.7,202.83 1151.67,201.82 1147.63,200.81 1142.58,201.82 1138.54,200.81 1135.51,198.79 1132.47,195.76 1129.44,194.75 1125.4,193.74 1123.38,190.71 1121.36,186.67 1118.33,182.63 1115.3,179.6 1114.29,178.59 1118.33,175.05 1121.36,174.55 1124.39,172.53 1122.37,170.51 1118.33,168.48 1115.3,166.46 1113.28,164.44 1111.26,162.42 1110.25,160.4 1107.22,158.38 1104.19,154.34 1102.17,150.3 1100.15,147.27 1097.63,145.25" fill="#fb5b47" stroke="#f03a26" stroke-width="1" stroke-linejoin="round"/>
<polygon points="1118.84,177.07 1124.39,176.06 1128.43,179.09 1131.46,183.13 1133.69,188.69 1134.7,193.74 1132.68,195.56 1128.23,194.24 1126.41,190.71 1125.4,186.16 1123.38,182.63 1120.56,181.11 1119.14,179.6" fill="#fff" stroke="#f03a26" stroke-width="0.6"/>
<polygon points="1174.39,205.86 1176.41,204.34 1179.44,204.85 1178.94,207.37 1175.91,208.08" fill="#fff" stroke="#f03a26" stroke-width="0.6"/>
<polygon points="1187.53,215.96 1189.55,214.95 1191.06,215.96 1189.04,217.17" fill="#fff" stroke="#f03a26" stroke-width="0.6"/>
<polygon points="1154.19,175.35 1156.21,174.95 1157.93,176.16 1155.71,176.77" fill="#f55"/>
<polygon points="1102.37,159.6 1104.19,158.79 1105.2,160.2 1103.18,160.61" fill="#f55"/>
<defs><linearGradient id="tgb" gradientUnits="userSpaceOnUse" x1="1215.68" y1="214.71" x2="1228.15" y2="224.55"><stop offset="0" stop-color="#f0402c"/><stop offset="1" stop-color="#141414"/></linearGradient></defs>
<polyline points="1211.34,212.24 1212,212.5 1218.25,216.25 1222.3,218.7 1228.5,224.9 1228.76,225.32" fill="none" stroke="url(#tgb)" stroke-width="4.4" stroke-linejoin="round" stroke-linecap="round"/>
<polyline points="1228.15,224.55 1228.5,224.9 1231.6,229.9 1232.58,231.81" fill="none" stroke="#141414" stroke-width="4.24" stroke-linejoin="round" stroke-linecap="round"/>
<polyline points="1232.3,231.27 1233.5,233.6 1234.06,239.48" fill="none" stroke="#141414" stroke-width="4.08" stroke-linejoin="round" stroke-linecap="round"/>
<polyline points="1234,238.88 1234.1,239.9 1235.4,244.9 1236.63,246.89" fill="none" stroke="#141414" stroke-width="3.91" stroke-linejoin="round" stroke-linecap="round"/>
<polyline points="1236.32,246.38 1238.5,249.9 1238.08,254.26" fill="none" stroke="#141414" stroke-width="3.75" stroke-linejoin="round" stroke-linecap="round"/>
<polyline points="1238.14,253.67 1237.9,256.1 1238.49,262.15" fill="none" stroke="#141414" stroke-width="3.59" stroke-linejoin="round" stroke-linecap="round"/>
<polyline points="1238.43,261.56 1238.5,262.3 1241,268.5 1242.03,268.86" fill="none" stroke="#141414" stroke-width="3.43" stroke-linejoin="round" stroke-linecap="round"/>
<polyline points="1241.47,268.66 1244.7,269.8 1248.5,272.3 1248.83,272.74" fill="none" stroke="#141414" stroke-width="3.26" stroke-linejoin="round" stroke-linecap="round"/>
<polyline points="1248.46,272.27 1248.5,272.3 1252.2,277.3 1252.92,279.44" fill="none" stroke="#141414" stroke-width="3.1" stroke-linejoin="round" stroke-linecap="round"/>
<polyline points="1252.73,278.87 1254.7,284.7 1255.38,286.97" fill="none" stroke="#141414" stroke-width="2.94" stroke-linejoin="round" stroke-linecap="round"/>
<polyline points="1255.21,286.4 1256.6,291 1257.11,294.68" fill="none" stroke="#141414" stroke-width="2.77" stroke-linejoin="round" stroke-linecap="round"/>
<polyline points="1257.03,294.09 1257.8,299.7 1258.1,302.55" fill="none" stroke="#141414" stroke-width="2.61" stroke-linejoin="round" stroke-linecap="round"/>
<polyline points="1258.03,301.95 1258.92,310.43" fill="none" stroke="#141414" stroke-width="2.45" stroke-linejoin="round" stroke-linecap="round"/>
<polyline points="1258.85,309.83 1259.1,312.2 1259.4,318.34" fill="none" stroke="#141414" stroke-width="2.29" stroke-linejoin="round" stroke-linecap="round"/>
<polyline points="1259.37,317.74 1259.7,324.6 1259.76,326.26" fill="none" stroke="#141414" stroke-width="2.12" stroke-linejoin="round" stroke-linecap="round"/>
<polyline points="1259.74,325.66 1260.04,334.18" fill="none" stroke="#141414" stroke-width="1.96" stroke-linejoin="round" stroke-linecap="round"/>
<polyline points="1260.02,333.58 1260.3,341.5" fill="none" stroke="#141414" stroke-width="1.8" stroke-linejoin="round" stroke-linecap="round"/>
</g>
<path d="M1059,423h5.5M1554,423h-5.5M1059,374.44h5.5M1554,374.44h-5.5M1059,325.88h5.5M1554,325.88h-5.5M1059,277.31h5.5M1554,277.31h-5.5M1059,228.75h5.5M1554,228.75h-5.5M1059,180.19h5.5M1554,180.19h-5.5M1059,131.62h5.5M1554,131.62h-5.5M1059,83.06h5.5M1554,83.06h-5.5M1059,34.5h5.5M1554,34.5h-5.5" stroke="#000" stroke-width="2" fill="none"/>
<rect x="1058" y="30.8" width="497" height="399.2" fill="none" stroke="#000" stroke-width="2"/>
<text x="1057.2" y="23.7" text-anchor="start" font-size="25.6" >Chasing Leader</text>
<text x="1282.5" y="23.7" text-anchor="start" font-size="25.6" >United Leader</text>
<text x="1357.8" y="492.6" text-anchor="middle" font-size="25.6" >(b)</text>
<rect x="1568.3" y="31" width="18.7" height="399.5" fill="url(#cbv)" stroke="#1a1a1a" stroke-width="1.4"/>
<path d="M1568.9,110.9h4M1586.5,110.9h-4M1568.9,190.8h4M1586.5,190.8h-4M1568.9,270.7h4M1586.5,270.7h-4M1568.9,350.6h4M1586.5,350.6h-4" stroke="#111" stroke-width="1.6"/>
<text x="1599.5" y="39.5" text-anchor="start" font-size="25.6" >0</text>
<text x="1599.5" y="119.6" text-anchor="start" font-size="25.6" >20</text>
<text x="1599.5" y="199.7" text-anchor="start" font-size="25.6" >40</text>
<text x="1599.5" y="279.8" text-anchor="start" font-size="25.6" >60</text>
<text x="1599.5" y="359.9" text-anchor="start" font-size="25.6" >80</text>
<text x="1597.5" y="440" text-anchor="start" font-size="25.6" >100</text>
<text transform="translate(1654.7,229.6) rotate(-90)" text-anchor="middle" font-size="25.6">2-D Propagation Speed (×10<tspan font-size="13" dy="-9.5">5</tspan><tspan dy="9.5"> m/s)</tspan></text>
<path d="M84,1026.5h11M1580,1026.5h-12.5M84,948.1h11M1580,948.1h-12.5M84,869.9h11M1580,869.9h-12.5M84,791.5h11M1580,791.5h-12.5M84,713h11M1580,713h-12.5M84,634.6h11M1580,634.6h-12.5M154,1064.7v-8M494,1064.7v-8M640,1064.7v-8M1495,1064.7v-8" stroke="#000" stroke-width="2" fill="none"/>
<text x="74.5" y="1035.1" text-anchor="end" font-size="25.6" >0</text>
<text x="74.5" y="956.7" text-anchor="end" font-size="25.6" >20</text>
<text x="74.5" y="878.5" text-anchor="end" font-size="25.6" >40</text>
<text x="74.5" y="800.1" text-anchor="end" font-size="25.6" >60</text>
<text x="74.5" y="721.6" text-anchor="end" font-size="25.6" >80</text>
<text x="74.5" y="643.2" text-anchor="end" font-size="25.6" >100</text>
<text x="74.5" y="566.2" text-anchor="end" font-size="25.6" >120</text>
<text x="140.6" y="1093.5" text-anchor="start" font-size="25.6" >A</text>
<text x="162.1" y="1093.6" text-anchor="start" font-size="13.6" >1</text>
<text x="482.6" y="1093.5" text-anchor="start" font-size="25.6" >B</text>
<text x="501.6" y="1093.6" text-anchor="start" font-size="13.6" >1</text>
<text x="627" y="1093.5" text-anchor="start" font-size="25.6" >C</text>
<text x="646.5" y="1093.6" text-anchor="start" font-size="13.6" >1</text>
<text x="1482.5" y="1093.5" text-anchor="start" font-size="25.6" >D</text>
<text x="1502.85" y="1093.6" text-anchor="start" font-size="13.6" >1</text>
<text x="795.3" y="1131.9" text-anchor="middle" font-size="25.6" >Position</text>
<text x="795.8" y="1175.7" text-anchor="middle" font-size="25.6" >(c)</text>
<text transform="translate(28.3,762.4) rotate(-90)" text-anchor="middle" font-size="25.6">2-D Propagation Speed (×10<tspan font-size="13" dy="-9.5">5</tspan><tspan dy="9.5"> m/s)</tspan></text>
<polyline points="153.75,994.3 182.3,997.6 210.8,1014" fill="none" stroke="#1c64e0" stroke-width="5.6" stroke-linejoin="round" stroke-linecap="round" opacity="1"/>
<polyline points="409.2,990.1 437.6,1010.1 465.9,1008.2 494.2,1002.6" fill="none" stroke="#1c64e0" stroke-width="5.6" stroke-linejoin="round" stroke-linecap="round" opacity="1"/>
<polyline points="640,1013.25 668.5,1005.75 697,993.25 725.5,994.5 754,984.5 782.5,958.25 811,964.5 839.5,979.5 868,950.75 896.5,964.5 925,964.5 953.5,934.5 982,943.25 1010.5,944.5 1039,974.5 1067.5,969.5 1096,985.75 1124.5,989.5 1153,990.75 1181.5,990.75 1210,992 1238.5,1004.5 1267,998.25 1295.5,1002.6 1324,996.4 1352.5,992.6 1381,988.9 1409.5,988.9 1438,988.9" fill="none" stroke="#1c64e0" stroke-width="5.6" stroke-linejoin="round" stroke-linecap="round" opacity="1"/>
<polygon points="140.75,986.1 166.75,986.1 153.75,1002.5" fill="#1c64e0" stroke="#0d3fd0" stroke-width="1" stroke-linejoin="miter" opacity="1"/>
<polygon points="169.3,989.4 195.3,989.4 182.3,1005.8" fill="#1c64e0" stroke="#0d3fd0" stroke-width="1" stroke-linejoin="miter" opacity="1"/>
<polygon points="197.8,1005.8 223.8,1005.8 210.8,1022.2" fill="#1c64e0" stroke="#0d3fd0" stroke-width="1" stroke-linejoin="miter" opacity="1"/>
<polygon points="282.8,996.2 308.8,996.2 295.8,1012.6" fill="#1c64e0" stroke="#0d3fd0" stroke-width="1" stroke-linejoin="miter" opacity="1"/>
<polygon points="396.2,981.9 422.2,981.9 409.2,998.3" fill="#1c64e0" stroke="#0d3fd0" stroke-width="1" stroke-linejoin="miter" opacity="1"/>
<polygon points="424.6,1001.9 450.6,1001.9 437.6,1018.3" fill="#1c64e0" stroke="#0d3fd0" stroke-width="1" stroke-linejoin="miter" opacity="1"/>
<polygon points="452.9,1000 478.9,1000 465.9,1016.4" fill="#1c64e0" stroke="#0d3fd0" stroke-width="1" stroke-linejoin="miter" opacity="1"/>
<polygon points="481.2,994.4 507.2,994.4 494.2,1010.8" fill="#1c64e0" stroke="#0d3fd0" stroke-width="1" stroke-linejoin="miter" opacity="1"/>
<polygon points="627,1005.05 653,1005.05 640,1021.45" fill="#1c64e0" stroke="#0d3fd0" stroke-width="1" stroke-linejoin="miter" opacity="1"/>
<polygon points="655.5,997.55 681.5,997.55 668.5,1013.95" fill="#1c64e0" stroke="#0d3fd0" stroke-width="1" stroke-linejoin="miter" opacity="1"/>
<polygon points="684,985.05 710,985.05 697,1001.45" fill="#1c64e0" stroke="#0d3fd0" stroke-width="1" stroke-linejoin="miter" opacity="1"/>
<polygon points="712.5,986.3 738.5,986.3 725.5,1002.7" fill="#1c64e0" stroke="#0d3fd0" stroke-width="1" stroke-linejoin="miter" opacity="1"/>
<polygon points="741,976.3 767,976.3 754,992.7" fill="#1c64e0" stroke="#0d3fd0" stroke-width="1" stroke-linejoin="miter" opacity="1"/>
<polygon points="769.5,950.05 795.5,950.05 782.5,966.45" fill="#1c64e0" stroke="#0d3fd0" stroke-width="1" stroke-linejoin="miter" opacity="1"/>
<polygon points="798,956.3 824,956.3 811,972.7" fill="#1c64e0" stroke="#0d3fd0" stroke-width="1" stroke-linejoin="miter" opacity="1"/>
<polygon points="826.5,971.3 852.5,971.3 839.5,987.7" fill="#1c64e0" stroke="#0d3fd0" stroke-width="1" stroke-linejoin="miter" opacity="1"/>
<polygon points="855,942.55 881,942.55 868,958.95" fill="#1c64e0" stroke="#0d3fd0" stroke-width="1" stroke-linejoin="miter" opacity="1"/>
<polygon points="883.5,956.3 909.5,956.3 896.5,972.7" fill="#1c64e0" stroke="#0d3fd0" stroke-width="1" stroke-linejoin="miter" opacity="1"/>
<polygon points="912,956.3 938,956.3 925,972.7" fill="#1c64e0" stroke="#0d3fd0" stroke-width="1" stroke-linejoin="miter" opacity="1"/>
<polygon points="940.5,926.3 966.5,926.3 953.5,942.7" fill="#1c64e0" stroke="#0d3fd0" stroke-width="1" stroke-linejoin="miter" opacity="1"/>
<polygon points="969,935.05 995,935.05 982,951.45" fill="#1c64e0" stroke="#0d3fd0" stroke-width="1" stroke-linejoin="miter" opacity="1"/>
<polygon points="997.5,936.3 1023.5,936.3 1010.5,952.7" fill="#1c64e0" stroke="#0d3fd0" stroke-width="1" stroke-linejoin="miter" opacity="1"/>
<polygon points="1026,966.3 1052,966.3 1039,982.7" fill="#1c64e0" stroke="#0d3fd0" stroke-width="1" stroke-linejoin="miter" opacity="1"/>
<polygon points="1054.5,961.3 1080.5,961.3 1067.5,977.7" fill="#1c64e0" stroke="#0d3fd0" stroke-width="1" stroke-linejoin="miter" opacity="1"/>
<polygon points="1083,977.55 1109,977.55 1096,993.95" fill="#1c64e0" stroke="#0d3fd0" stroke-width="1" stroke-linejoin="miter" opacity="1"/>
<polygon points="1111.5,981.3 1137.5,981.3 1124.5,997.7" fill="#1c64e0" stroke="#0d3fd0" stroke-width="1" stroke-linejoin="miter" opacity="1"/>
<polygon points="1140,982.55 1166,982.55 1153,998.95" fill="#1c64e0" stroke="#0d3fd0" stroke-width="1" stroke-linejoin="miter" opacity="1"/>
<polygon points="1168.5,982.55 1194.5,982.55 1181.5,998.95" fill="#1c64e0" stroke="#0d3fd0" stroke-width="1" stroke-linejoin="miter" opacity="1"/>
<polygon points="1197,983.8 1223,983.8 1210,1000.2" fill="#1c64e0" stroke="#0d3fd0" stroke-width="1" stroke-linejoin="miter" opacity="1"/>
<polygon points="1225.5,996.3 1251.5,996.3 1238.5,1012.7" fill="#1c64e0" stroke="#0d3fd0" stroke-width="1" stroke-linejoin="miter" opacity="1"/>
<polygon points="1254,990.05 1280,990.05 1267,1006.45" fill="#1c64e0" stroke="#0d3fd0" stroke-width="1" stroke-linejoin="miter" opacity="1"/>
<polygon points="1282.5,994.4 1308.5,994.4 1295.5,1010.8" fill="#1c64e0" stroke="#0d3fd0" stroke-width="1" stroke-linejoin="miter" opacity="1"/>
<polygon points="1311,988.2 1337,988.2 1324,1004.6" fill="#1c64e0" stroke="#0d3fd0" stroke-width="1" stroke-linejoin="miter" opacity="1"/>
<polygon points="1339.5,984.4 1365.5,984.4 1352.5,1000.8" fill="#1c64e0" stroke="#0d3fd0" stroke-width="1" stroke-linejoin="miter" opacity="1"/>
<polygon points="1368,980.7 1394,980.7 1381,997.1" fill="#1c64e0" stroke="#0d3fd0" stroke-width="1" stroke-linejoin="miter" opacity="1"/>
<polygon points="1396.5,980.7 1422.5,980.7 1409.5,997.1" fill="#1c64e0" stroke="#0d3fd0" stroke-width="1" stroke-linejoin="miter" opacity="1"/>
<polygon points="1425,980.7 1451,980.7 1438,997.1" fill="#1c64e0" stroke="#0d3fd0" stroke-width="1" stroke-linejoin="miter" opacity="1"/>
<polyline points="153.75,1004 323.75,882.5 494,979.6" fill="none" stroke="#ef3a3e" stroke-width="5.6" stroke-linejoin="round" stroke-linecap="round" opacity="1"/>
<ellipse cx="153.75" cy="1004" rx="10.6" ry="7.6" fill="#ef4347" stroke="#e31f28" stroke-width="1"/>
<ellipse cx="323.75" cy="882.5" rx="10.6" ry="7.6" fill="#ef4347" stroke="#e31f28" stroke-width="1"/>
<ellipse cx="494" cy="979.6" rx="10.6" ry="7.6" fill="#ef4347" stroke="#e31f28" stroke-width="1"/>
<polyline points="640,963 895.6,895 1152.5,810 1437.25,644.5" fill="none" stroke="#ef3a3e" stroke-width="5.6" stroke-linejoin="round" stroke-linecap="round" opacity="1"/>
<ellipse cx="640" cy="963" rx="10.6" ry="7.6" fill="#ef4347" stroke="#e31f28" stroke-width="1"/>
<ellipse cx="895.6" cy="895" rx="10.6" ry="7.6" fill="#ef4347" stroke="#e31f28" stroke-width="1"/>
<ellipse cx="1152.5" cy="810" rx="10.6" ry="7.6" fill="#ef4347" stroke="#e31f28" stroke-width="1"/>
<ellipse cx="1437.25" cy="644.5" rx="10.6" ry="7.6" fill="#ef4347" stroke="#e31f28" stroke-width="1"/>
<polyline points="1466.3,871.8 1494.8,878.8" fill="none" stroke="#1b8f43" stroke-width="5.2" stroke-linejoin="round" stroke-linecap="round" opacity="1"/>
<polyline points="1466.3,871.8 1494.8,878.8" fill="none" stroke="#3cb36e" stroke-width="3.4" stroke-linejoin="round" stroke-linecap="round" opacity="1"/>
<polygon points="1452.8,880 1479.8,880 1466.3,863.6" fill="#3cb36e" stroke="#1b8f43" stroke-width="1.2" stroke-linejoin="miter" opacity="0.95"/>
<polygon points="1481.3,887 1508.3,887 1494.8,870.6" fill="#3cb36e" stroke="#1b8f43" stroke-width="1.2" stroke-linejoin="miter" opacity="0.95"/>
<polyline points="154,994.5 206,1008.5 259,968.5 312.5,953.8" fill="none" stroke="#14c2c6" stroke-width="4.0" stroke-linejoin="round" stroke-linecap="round" stroke-dasharray="6.5 12.5" opacity="0.95"/>
<polygon points="154,988 161.75,992.97 158.79,1001 149.21,1001 146.25,992.97" fill="#12c6c8" stroke="#12c6c8" stroke-width="0.5" stroke-linejoin="miter" opacity="0.95"/>
<polygon points="206,1002 213.75,1006.97 210.79,1015 201.21,1015 198.25,1006.97" fill="#12c6c8" stroke="#12c6c8" stroke-width="0.5" stroke-linejoin="miter" opacity="0.95"/>
<polygon points="259,962 266.75,966.97 263.79,975 254.21,975 251.25,966.97" fill="#12c6c8" stroke="#12c6c8" stroke-width="0.5" stroke-linejoin="miter" opacity="0.95"/>
<polygon points="312.5,947.3 320.25,952.27 317.29,960.3 307.71,960.3 304.75,952.27" fill="#12c6c8" stroke="#12c6c8" stroke-width="0.5" stroke-linejoin="miter" opacity="0.95"/>
<polyline points="392.5,973 445,993.8 494.5,993.8" fill="none" stroke="#14c2c6" stroke-width="4.0" stroke-linejoin="round" stroke-linecap="round" stroke-dasharray="6.5 12.5" opacity="0.95"/>
<polygon points="392.5,966.5 400.25,971.47 397.29,979.5 387.71,979.5 384.75,971.47" fill="#12c6c8" stroke="#12c6c8" stroke-width="0.5" stroke-linejoin="miter" opacity="0.95"/>
<polygon points="445,987.3 452.75,992.27 449.79,1000.3 440.21,1000.3 437.25,992.27" fill="#12c6c8" stroke="#12c6c8" stroke-width="0.5" stroke-linejoin="miter" opacity="0.95"/>
<polygon points="494.5,987.3 502.25,992.27 499.29,1000.3 489.71,1000.3 486.75,992.27" fill="#12c6c8" stroke="#12c6c8" stroke-width="0.5" stroke-linejoin="miter" opacity="0.95"/>
<polyline points="639.3,977.5 724.5,957 809.7,890 894.9,895 980.1,881.25 1065.3,800 1150.5,868.75 1235.7,873.75 1320.9,822.5 1406.1,795 1491.3,913" fill="none" stroke="#14c2c6" stroke-width="4.0" stroke-linejoin="round" stroke-linecap="round" stroke-dasharray="6.5 12.5" opacity="0.95"/>
<polygon points="639.3,971 647.05,975.97 644.09,984 634.51,984 631.55,975.97" fill="#12c6c8" stroke="#12c6c8" stroke-width="0.5" stroke-linejoin="miter" opacity="0.95"/>
<polygon points="724.5,950.5 732.25,955.47 729.29,963.5 719.71,963.5 716.75,955.47" fill="#12c6c8" stroke="#12c6c8" stroke-width="0.5" stroke-linejoin="miter" opacity="0.95"/>
<polygon points="809.7,883.5 817.45,888.47 814.49,896.5 804.91,896.5 801.95,888.47" fill="#12c6c8" stroke="#12c6c8" stroke-width="0.5" stroke-linejoin="miter" opacity="0.95"/>
<polygon points="894.9,888.5 902.65,893.47 899.69,901.5 890.11,901.5 887.15,893.47" fill="#12c6c8" stroke="#12c6c8" stroke-width="0.5" stroke-linejoin="miter" opacity="0.95"/>
<polygon points="980.1,874.75 987.85,879.72 984.89,887.75 975.31,887.75 972.35,879.72" fill="#12c6c8" stroke="#12c6c8" stroke-width="0.5" stroke-linejoin="miter" opacity="0.95"/>
<polygon points="1065.3,793.5 1073.05,798.47 1070.09,806.5 1060.51,806.5 1057.55,798.47" fill="#12c6c8" stroke="#12c6c8" stroke-width="0.5" stroke-linejoin="miter" opacity="0.95"/>
<polygon points="1150.5,862.25 1158.25,867.22 1155.29,875.25 1145.71,875.25 1142.75,867.22" fill="#12c6c8" stroke="#12c6c8" stroke-width="0.5" stroke-linejoin="miter" opacity="0.95"/>
<polygon points="1235.7,867.25 1243.45,872.22 1240.49,880.25 1230.91,880.25 1227.95,872.22" fill="#12c6c8" stroke="#12c6c8" stroke-width="0.5" stroke-linejoin="miter" opacity="0.95"/>
<polygon points="1320.9,816 1328.65,820.97 1325.69,829 1316.11,829 1313.15,820.97" fill="#12c6c8" stroke="#12c6c8" stroke-width="0.5" stroke-linejoin="miter" opacity="0.95"/>
<polygon points="1406.1,788.5 1413.85,793.47 1410.89,801.5 1401.31,801.5 1398.35,793.47" fill="#12c6c8" stroke="#12c6c8" stroke-width="0.5" stroke-linejoin="miter" opacity="0.95"/>
<polygon points="1491.3,906.5 1499.05,911.47 1496.09,919.5 1486.51,919.5 1483.55,911.47" fill="#12c6c8" stroke="#12c6c8" stroke-width="0.5" stroke-linejoin="miter" opacity="0.95"/>
<polyline points="154,995.5 202.57,990 251.14,1010 299.71,917.5 348.28,982.5 396.85,932.5 445.42,969.4 493.99,994.6" fill="none" stroke="#0e0e0e" stroke-width="3.9" stroke-linejoin="round" stroke-linecap="round" stroke-dasharray="6.8 12.2" opacity="0.95"/>
<polyline points="154,995.5 202.57,990 251.14,1010 299.71,917.5 348.28,982.5 396.85,932.5 445.42,969.4 493.99,994.6" fill="none" stroke="#4a4a4a" stroke-width="1.4" stroke-linejoin="round" stroke-linecap="round" stroke-dasharray="6.8 12.2" opacity="0.95"/>
<polygon points="154,989.1 155.92,993.89 161.75,993.99 157.1,997.05 158.79,1001.9 154,999.01 149.21,1001.9 150.9,997.05 146.25,993.99 152.08,993.89" fill="#4a4a4a" stroke="#000" stroke-width="1" stroke-linejoin="miter" opacity="1"/>
<polygon points="202.57,983.6 204.49,988.39 210.32,988.49 205.67,991.55 207.36,996.4 202.57,993.51 197.78,996.4 199.47,991.55 194.82,988.49 200.65,988.39" fill="#4a4a4a" stroke="#000" stroke-width="1" stroke-linejoin="miter" opacity="1"/>
<polygon points="251.14,1003.6 253.06,1008.39 258.89,1008.49 254.24,1011.55 255.93,1016.4 251.14,1013.51 246.35,1016.4 248.04,1011.55 243.39,1008.49 249.22,1008.39" fill="#4a4a4a" stroke="#000" stroke-width="1" stroke-linejoin="miter" opacity="1"/>
<polygon points="299.71,911.1 301.63,915.89 307.46,915.99 302.81,919.05 304.5,923.9 299.71,921.01 294.92,923.9 296.61,919.05 291.96,915.99 297.79,915.89" fill="#4a4a4a" stroke="#000" stroke-width="1" stroke-linejoin="miter" opacity="1"/>
<polygon points="348.28,976.1 350.2,980.89 356.03,980.99 351.38,984.05 353.07,988.9 348.28,986.01 343.49,988.9 345.18,984.05 340.53,980.99 346.36,980.89" fill="#4a4a4a" stroke="#000" stroke-width="1" stroke-linejoin="miter" opacity="1"/>
<polygon points="396.85,926.1 398.77,930.89 404.6,930.99 399.95,934.05 401.64,938.9 396.85,936.01 392.06,938.9 393.75,934.05 389.1,930.99 394.93,930.89" fill="#4a4a4a" stroke="#000" stroke-width="1" stroke-linejoin="miter" opacity="1"/>
<polygon points="445.42,963 447.34,967.79 453.17,967.89 448.52,970.95 450.21,975.8 445.42,972.91 440.63,975.8 442.32,970.95 437.67,967.89 443.5,967.79" fill="#4a4a4a" stroke="#000" stroke-width="1" stroke-linejoin="miter" opacity="1"/>
<polygon points="493.99,988.2 495.91,992.99 501.74,993.09 497.09,996.15 498.78,1001 493.99,998.11 489.2,1001 490.89,996.15 486.24,993.09 492.07,992.99" fill="#4a4a4a" stroke="#000" stroke-width="1" stroke-linejoin="miter" opacity="1"/>
<polyline points="639.5,983.75 724.65,954.5 809.8,897.5 894.95,900 980.1,896.25 1065.25,808.75 1150.4,862.5 1235.55,892.5 1320.7,893.75 1405.85,787.5 1491,807" fill="none" stroke="#0e0e0e" stroke-width="3.9" stroke-linejoin="round" stroke-linecap="round" stroke-dasharray="6.8 12.2" opacity="0.95"/>
<polyline points="639.5,983.75 724.65,954.5 809.8,897.5 894.95,900 980.1,896.25 1065.25,808.75 1150.4,862.5 1235.55,892.5 1320.7,893.75 1405.85,787.5 1491,807" fill="none" stroke="#4a4a4a" stroke-width="1.4" stroke-linejoin="round" stroke-linecap="round" stroke-dasharray="6.8 12.2" opacity="0.95"/>
<polygon points="639.5,977.35 641.42,982.14 647.25,982.24 642.6,985.3 644.29,990.15 639.5,987.26 634.71,990.15 636.4,985.3 631.75,982.24 637.58,982.14" fill="#4a4a4a" stroke="#000" stroke-width="1" stroke-linejoin="miter" opacity="1"/>
<polygon points="724.65,948.1 726.57,952.89 732.4,952.99 727.75,956.05 729.44,960.9 724.65,958.01 719.86,960.9 721.55,956.05 716.9,952.99 722.73,952.89" fill="#4a4a4a" stroke="#000" stroke-width="1" stroke-linejoin="miter" opacity="1"/>
<polygon points="809.8,891.1 811.72,895.89 817.55,895.99 812.9,899.05 814.59,903.9 809.8,901.01 805.01,903.9 806.7,899.05 802.05,895.99 807.88,895.89" fill="#4a4a4a" stroke="#000" stroke-width="1" stroke-linejoin="miter" opacity="1"/>
<polygon points="894.95,893.6 896.87,898.39 902.7,898.49 898.05,901.55 899.74,906.4 894.95,903.51 890.16,906.4 891.85,901.55 887.2,898.49 893.03,898.39" fill="#4a4a4a" stroke="#000" stroke-width="1" stroke-linejoin="miter" opacity="1"/>
<polygon points="980.1,889.85 982.02,894.64 987.85,894.74 983.2,897.8 984.89,902.65 980.1,899.76 975.31,902.65 977,897.8 972.35,894.74 978.18,894.64" fill="#4a4a4a" stroke="#000" stroke-width="1" stroke-linejoin="miter" opacity="1"/>
<polygon points="1065.25,802.35 1067.17,807.14 1073,807.24 1068.35,810.3 1070.04,815.15 1065.25,812.26 1060.46,815.15 1062.15,810.3 1057.5,807.24 1063.33,807.14" fill="#4a4a4a" stroke="#000" stroke-width="1" stroke-linejoin="miter" opacity="1"/>
<polygon points="1150.4,856.1 1152.32,860.89 1158.15,860.99 1153.5,864.05 1155.19,868.9 1150.4,866.01 1145.61,868.9 1147.3,864.05 1142.65,860.99 1148.48,860.89" fill="#4a4a4a" stroke="#000" stroke-width="1" stroke-linejoin="miter" opacity="1"/>
<polygon points="1235.55,886.1 1237.47,890.89 1243.3,890.99 1238.65,894.05 1240.34,898.9 1235.55,896.01 1230.76,898.9 1232.45,894.05 1227.8,890.99 1233.63,890.89" fill="#4a4a4a" stroke="#000" stroke-width="1" stroke-linejoin="miter" opacity="1"/>
<polygon points="1320.7,887.35 1322.62,892.14 1328.45,892.24 1323.8,895.3 1325.49,900.15 1320.7,897.26 1315.91,900.15 1317.6,895.3 1312.95,892.24 1318.78,892.14" fill="#4a4a4a" stroke="#000" stroke-width="1" stroke-linejoin="miter" opacity="1"/>
<polygon points="1405.85,781.1 1407.77,785.89 1413.6,785.99 1408.95,789.05 1410.64,793.9 1405.85,791.01 1401.06,793.9 1402.75,789.05 1398.1,785.99 1403.93,785.89" fill="#4a4a4a" stroke="#000" stroke-width="1" stroke-linejoin="miter" opacity="1"/>
<polygon points="1491,800.6 1492.92,805.39 1498.75,805.49 1494.1,808.55 1495.79,813.4 1491,810.51 1486.21,813.4 1487.9,808.55 1483.25,805.49 1489.08,805.39" fill="#4a4a4a" stroke="#000" stroke-width="1" stroke-linejoin="miter" opacity="1"/>
<polyline points="163.5,608.75 267.5,608.75" fill="none" stroke="#0d3fd0" stroke-width="7.6" stroke-linejoin="round" stroke-linecap="round" opacity="1"/>
<polyline points="163.5,608.75 267.5,608.75" fill="none" stroke="#1c64e0" stroke-width="5.6" stroke-linejoin="round" stroke-linecap="round" opacity="1"/>
<polygon points="197.15,601.45 233.65,601.45 215.4,622.45" fill="#1c64e0" stroke="#0d3fd0" stroke-width="1" stroke-linejoin="miter" opacity="1"/>
<polyline points="163.5,662.75 267.5,662.75" fill="none" stroke="#e31f28" stroke-width="7.6" stroke-linejoin="round" stroke-linecap="round" opacity="1"/>
<polyline points="163.5,662.75 267.5,662.75" fill="none" stroke="#ef3a3e" stroke-width="5.6" stroke-linejoin="round" stroke-linecap="round" opacity="1"/>
<ellipse cx="215.4" cy="662.75" rx="14.6" ry="9.7" fill="#ef4347" stroke="#e31f28" stroke-width="1.2"/>
<polyline points="163.5,717.25 267.5,717.25" fill="none" stroke="#1b8f43" stroke-width="7.6" stroke-linejoin="round" stroke-linecap="round" opacity="1"/>
<polyline points="163.5,717.25 267.5,717.25" fill="none" stroke="#3cb36e" stroke-width="5.6" stroke-linejoin="round" stroke-linecap="round" opacity="1"/>
<polygon points="197.15,724.55 233.65,724.55 215.4,703.55" fill="#3cb36e" stroke="#1b8f43" stroke-width="1" stroke-linejoin="miter" opacity="1"/>
<polyline points="163.5,771.25 267.5,771.25" fill="none" stroke="#14c2c6" stroke-width="6" stroke-linejoin="round" stroke-linecap="round" stroke-dasharray="11.2 19.5" opacity="1"/>
<polygon points="215.4,762.95 226.65,769.44 222.35,779.95 208.45,779.95 204.15,769.44" fill="#12c6c8" stroke="#12c6c8" stroke-width="0.5" stroke-linejoin="miter" opacity="1"/>
<polyline points="163.5,829 267.5,829" fill="none" stroke="#1e1e1e" stroke-width="6.4" stroke-linejoin="round" stroke-linecap="round" stroke-dasharray="10.5 20.2" opacity="1"/>
<polyline points="163.5,829 267.5,829" fill="none" stroke="#4a4a4a" stroke-width="3.6" stroke-linejoin="round" stroke-linecap="round" stroke-dasharray="10.5 20.2" opacity="1"/>
<polygon points="215.4,819.6 217.38,826.03 223.4,826.17 218.6,830.28 220.34,836.8 215.4,832.91 210.46,836.8 212.2,830.28 207.4,826.17 213.42,826.03" fill="#4a4a4a" stroke="#000" stroke-width="1.2" stroke-linejoin="miter" opacity="1"/>
<text x="291.5" y="618.85" text-anchor="start" font-size="25.6" >Chased Leader</text>
<text x="291.5" y="669.35" text-anchor="start" font-size="25.6" >Chasing Leader</text>
<text x="291.5" y="726.85" text-anchor="start" font-size="25.6" >United Leader</text>
<text x="291.5" y="780.85" text-anchor="start" font-size="25.6" >Dart Leader 6</text>
<text x="291.5" y="837.6" text-anchor="start" font-size="25.6" >Dart Leader 7</text>
<rect x="84" y="557.5" width="1496" height="507.2" fill="none" stroke="#000" stroke-width="2"/>
</svg></body></html>
